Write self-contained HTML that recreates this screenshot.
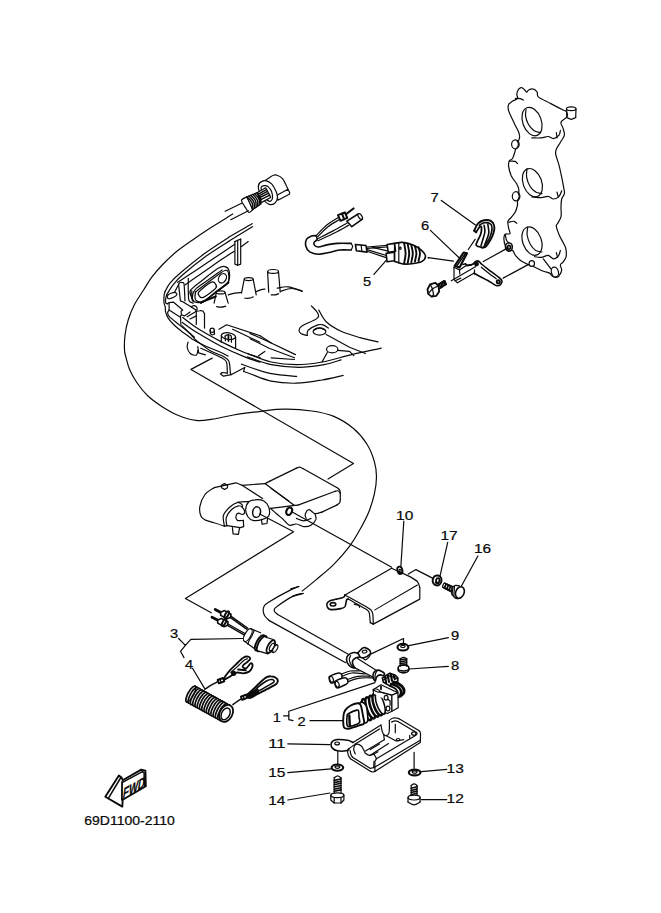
<!DOCTYPE html>
<html><head><meta charset="utf-8"><title>69D1100-2110</title>
<style>
html,body{margin:0;padding:0;background:#fff;}
body{width:661px;height:913px;overflow:hidden;font-family:"Liberation Sans",sans-serif;}
svg{display:block;}
svg path,svg ellipse,svg line,svg circle{stroke:#0a0a0a;stroke-linecap:round;stroke-linejoin:round;}
svg path,svg ellipse{vector-effect:none;}
svg text{font-family:"Liberation Sans",sans-serif;fill:#0a0a0a;stroke:#0a0a0a;stroke-width:0.22px;}
</style></head><body>
<svg width="661" height="913" viewBox="0 0 661 913">
<rect x="0" y="0" width="661" height="913" fill="#ffffff" stroke="none"/>
<!-- cable arc -->
<path d="M232.7 214 C232.2 214.3 233.7 213.4 229.9 215.8 C226.1 218.2 216.1 224.3 209.9 228.3 C203.7 232.3 198.2 236.1 192.6 240 C187 243.9 181.3 247.7 176.3 251.8 C171.3 255.9 166.8 260.3 162.7 264.5 C158.6 268.7 155 272.9 151.8 277.2 C148.6 281.4 146.5 285.4 143.6 290 C140.7 294.6 137.1 299.5 134.5 304.5 C131.9 309.5 129.8 314.9 128.2 320 C126.6 325.1 125.6 330.4 125 335.4 C124.4 340.4 124.3 346.4 124.5 350 C124.7 353.6 125.1 353.9 125.9 357.1 C126.7 360.3 127.7 365 129.5 369.2 C131.3 373.4 133.8 378.1 136.8 382.5 C139.8 386.9 143.5 391.8 147.7 395.8 C151.9 399.8 157.2 403.5 162.2 406.7 C167.2 409.9 172.3 412.9 177.9 415.2 C183.5 417.5 190.2 419.7 196 420.4 C201.8 421.1 206.2 420.1 212.4 419.2 C218.7 418.3 225.4 416.3 233.5 415 C241.6 413.7 252.5 412.3 261 411.3 C269.5 410.3 275.9 409.2 284.4 409.2 C292.9 409.1 303.7 409.8 311.9 411 C320.1 412.2 326.9 413.5 333.8 416.4 C340.7 419.3 348 423.9 353.5 428.5 C359 433.1 363.2 438.3 366.7 443.8 C370.2 449.3 372.7 455.8 374.3 461.3 C375.9 466.8 376.5 471.2 376.5 476.7 C376.5 482.2 375.6 488.4 374.3 494.2 C373 500 371.3 505.9 368.9 511.7 C366.5 517.5 363.4 523.4 360.1 529.2 C356.8 535.1 353.5 540.9 349.1 546.8 C344.7 552.6 339.3 558.8 333.8 564.3 C328.3 569.8 321.6 575.1 316.3 579.6 C311 584.1 304.6 589.1 302.2 591" stroke-width="1.2" fill="none" />
<!-- connector -->
<path d="M258.4 186.2 C258.5 185.8 258.7 184.5 259.1 183.9 C259.4 183.2 259.7 182.9 260.7 182.3 C261.7 181.6 263.1 181.4 265.2 180.3 C267.3 179.1 271.4 176.1 273.4 175.3 C275.4 174.4 275.5 174.7 277 175.3 C278.5 175.8 280.9 176.9 282.5 178.7 C284.1 180.5 285.7 184.4 286.6 186.2 C287.5 187.9 287.7 188.8 287.9 189.3" stroke-width="1.2" fill="#fff" />
<path d="M287.9 189.3 L289.7 192.5 L289.3 194.3 L277.9 200.2 L277 195.2 L287.9 189.3" stroke-width="1.2" fill="#fff" />
<path d="M258.4 186.2 C258.7 184.9 259.1 183.4 260.2 182.5 C261.4 181.6 263.3 180.5 265.2 180.7 C267.1 180.9 269.8 182.1 271.6 183.9 C273.4 185.7 275.1 189.4 276.1 191.6 C277.1 193.8 277.4 195.5 277.5 197 C277.6 198.6 277.2 199.5 276.6 200.7 C276 201.8 275.1 203.2 273.9 203.9 C272.6 204.5 270.8 204.7 269.3 204.3 C267.9 203.9 266.7 203.1 265.2 201.6 C263.8 200.1 261.8 197.2 260.7 195.2 C259.6 193.3 259.1 191.3 258.7 189.8 C258.3 188.3 258.2 187.4 258.4 186.2Z" stroke-width="1.2" fill="#fff" />
<path d="M261.1 187.5 C261.4 186.4 262.7 185.9 263.9 185.7 C265 185.5 266.7 185.6 268 186.6 C269.2 187.6 270.8 189.7 271.6 191.6 C272.3 193.5 272.6 196.4 272.5 198 C272.4 199.5 271.7 200.1 271.1 200.7 C270.5 201.2 269.8 201.6 268.9 201.1 C267.9 200.7 266.4 199.4 265.2 198 C264.1 196.5 262.7 194.2 262.1 192.5 C261.4 190.8 260.8 188.7 261.1 187.5Z" stroke-width="1.2" fill="#fff" />
<path d="M257.5 192.5 L265.7 187.8 L270.7 197.5 L260.7 202.9Z" stroke-width="1.2" fill="#fff" />
<path d="M258.7 193.9 L266.6 189.6" stroke-width="1.4" fill="none" />
<path d="M259.3 195.7 L267.5 191.4" stroke-width="1.4" fill="none" />
<path d="M259.8 197.5 L268.7 193.2" stroke-width="1.4" fill="none" />
<path d="M260.3 199.8 L269.8 195.2" stroke-width="1.4" fill="none" />
<path d="M246.6 197 L257.5 192.5 L260.7 203.9 L252.5 209.8Z" stroke-width="1.2" fill="#fff" />
<path d="M247.1 196.9 C247.9 197.8 251 200.5 252 202.6 C253 204.7 252.8 208.3 253 209.4" stroke-width="1.4" fill="none" />
<path d="M249 196.1 C249.8 197 252.8 199.6 253.7 201.6 C254.7 203.7 254.4 207.2 254.5 208.3" stroke-width="1.4" fill="none" />
<path d="M250.9 195.3 C251.7 196.2 254.6 198.7 255.5 200.7 C256.3 202.7 256 206.1 256.1 207.2" stroke-width="1.4" fill="none" />
<path d="M252.8 194.5 C253.5 195.3 256.4 197.8 257.2 199.8 C258 201.7 257.5 205.1 257.6 206.1" stroke-width="1.4" fill="none" />
<path d="M254.7 193.7 C255.4 194.5 258.2 196.9 258.9 198.8 C259.7 200.7 259.1 204 259.1 205" stroke-width="1.4" fill="none" />
<path d="M256.6 192.9 C257.3 193.7 260 196 260.6 197.9 C261.3 199.7 260.7 202.9 260.7 203.9" stroke-width="1.4" fill="none" />
<path d="M246.6 197 C245.8 197.5 242.3 198.8 241.6 199.8 C241 200.8 241.9 201.6 242.5 202.9 C243.2 204.3 244.7 206.4 245.7 207.9 C246.8 209.5 247.8 212.2 248.9 212.5 C250 212.8 251.9 210.2 252.5 209.8" stroke-width="1.2" fill="#fff" />
<path d="M246.6 197 C246.9 197.5 247.5 198.4 248.2 199.8 C248.8 201.1 250 203.6 250.7 205.2 C251.4 206.9 252.2 209 252.5 209.8" stroke-width="1.2" fill="none" />
<path d="M241.6 203.3 L225.2 211.3" stroke-width="1.2" fill="none" />
<path d="M248.4 210.8 L230.7 219.7" stroke-width="1.2" fill="none" />
<!-- cowling -->
<path d="M165 291.6 C165.8 290.2 167.5 286.3 170 283.2 C172.5 280.2 174.1 278.3 180 273.3 C185.8 268.3 196.6 259.4 204.9 253.3 C213.2 247.2 222.4 241.4 229.9 236.6 C237.4 231.9 246.2 227.2 249.9 225 C253.5 222.8 251.7 223.9 252 223.7" stroke-width="1.2" fill="none" />
<path d="M166.6 294.9 C167.6 293.4 170 288.9 172.5 285.7 C175 282.6 175.9 280.7 181.6 275.8 C187.3 270.8 198 262 206.6 255.8 C215.2 249.6 225.9 243.3 233.2 238.6 C240.6 234 247.5 229.7 250.7 227.7 C253.9 225.7 252.1 226.8 252.4 226.7" stroke-width="1.2" fill="none" />
<path d="M177.6 282.3 C178.8 281.5 180.3 280.6 185 277.5 C189.7 274.4 198.8 268.4 205.7 263.8 C212.5 259.2 221.4 253.3 226.3 250 C231.2 246.7 233.4 245.1 234.8 244.2" stroke-width="1.2" fill="none" />
<path d="M185 284.9 C187.9 282.9 196.6 276.8 202.5 272.8 C208.3 268.7 214.7 264.2 219.9 260.6 C225.2 257 231.9 252.8 234.2 251.3" stroke-width="1.2" fill="none" />
<path d="M192.4 300.8 C192.4 299.9 192.4 296.9 192.6 295.5 C192.8 294.1 192.8 293.6 193.5 292.4 C194.1 291.1 194 290.3 196.6 288.1 C199.3 285.9 205.1 282.1 209.4 279.1 C213.6 276.1 219.9 271.6 222.1 270.1" stroke-width="1.2" fill="none" />
<path d="M200.9 302.4 C199.6 302.1 196.5 301.4 195.6 299.8 C194.7 298.1 195.2 293.9 195.6 292.4 C195.9 290.8 193.5 293.5 197.7 290.2 C201.9 287 216.2 276.1 221 272.8 C225.8 269.5 225.1 270.4 226.3 270.3 C227.5 270.3 228 270.5 228.4 272.5 C228.8 274.4 229 279.8 228.6 281.8 C228.3 283.8 230.6 281.1 226.3 284.4 C222 287.8 207.2 298.9 203 301.9 C198.8 304.9 202.1 302.8 200.9 302.4Z" stroke-width="1.2" fill="none" />
<path d="M201.1 302.3 L215.7 296.6" stroke-width="2.2" fill="none" />
<path d="M165 291.6 C164.8 292.3 164.3 293.6 164.1 295.4 C163.9 297.3 163.8 300.7 164 302.7 C164.2 304.7 165 305.7 165.3 307.2 C165.5 308.7 165.1 310 165.6 311.8 C166.1 313.6 166.8 316 168.2 318.1 C169.5 320.2 171.5 322.4 173.6 324.5 C175.7 326.6 178 328.6 180.9 330.8 C183.8 333.1 188.9 336.7 190.9 338.1 C192.8 339.5 190.1 337.9 192.5 339.2 C194.9 340.5 200.7 343.8 205.4 346 C210.1 348.2 216.7 350.6 220.5 352.3 C224.3 354 226.8 355.5 228.1 356.1" stroke-width="1.2" fill="none" />
<path d="M166.6 294.9 C166.5 295.4 166 296.9 165.8 298.2 C165.6 299.5 165.4 301.8 165.6 302.7 C165.9 303.6 167 303.6 167.3 303.8" stroke-width="1.2" fill="none" />
<path d="M169.1 310 L180.4 317.2" stroke-width="1.2" fill="none" />
<path d="M167.3 303.8 L169.1 302.7 L173.6 302.2 L182.7 310 L181.1 311.3 L181.4 314.7 L180.5 316.3 L180.9 324.5" stroke-width="1.2" fill="none" />
<path d="M169.1 302.7 L169.1 310 L168.2 311.3" stroke-width="1.2" fill="none" />
<path d="M181.4 314.7 L184.5 315.9 L190 312" stroke-width="1.2" fill="none" />
<path d="M167.7 312.2 C167.9 312.9 167 314.1 169.1 316.3 C171.1 318.5 175.7 321.9 180 325.4 C184.2 328.9 192.1 335.2 194.5 337.2" stroke-width="1.2" fill="none" />
<path d="M181.9 325.6 C183.3 326.9 188 331.5 190.3 333.9 C192.5 336.3 194.7 338.9 195.6 339.9" stroke-width="1.2" fill="none" />
<path d="M178.6 284.5 C178.8 284.2 178.9 283.1 179.5 282.7 C180.1 282.4 181.5 282.2 182.2 282.5 C183 282.8 183.6 281.5 184.1 284.5 C184.5 287.6 184.8 298.2 185 300.9" stroke-width="1.2" fill="none" />
<path d="M178.6 284.5 L180.4 300.9 L182.7 301.8 L191.8 307.2 L195.9 310" stroke-width="1.2" fill="none" />
<path d="M174.5 292.3 L178.6 284.5" stroke-width="1.2" fill="none" />
<path d="M168 295 C169 293.9 173 292.3 174.5 292.3 C176 292.2 177 293.9 176.9 294.7 C176.7 295.5 175.1 296.6 173.6 297.2 C172.2 297.9 169.1 299 168.2 298.6 C167.2 298.2 166.9 296 168 295Z" stroke-width="1.2" fill="none" />
<path d="M191.3 307.2 C191.5 307 191.9 306 192.7 305.9 C193.4 305.7 195.1 305.8 195.9 306.3 C196.6 306.9 197.2 308.4 197.2 309 C197.2 309.7 196.1 310.2 195.9 310.4" stroke-width="1.2" fill="none" />
<path d="M187.2 316.8 L196.3 311.3" stroke-width="1.2" fill="none" />
<path d="M196.3 311.3 C196.9 311.2 198.9 310.7 199.9 310.7 C201 310.6 201.9 310.6 202.7 311 C203.4 311.5 204.2 313.2 204.5 313.6" stroke-width="1.2" fill="none" />
<path d="M204.5 313.6 L204.5 328.1" stroke-width="1.2" fill="none" />
<path d="M196.3 311.3 L196.3 324.5" stroke-width="1.2" fill="none" />
<path d="M190 319 L196.3 315.9" stroke-width="1.2" fill="none" />
<path d="M191.8 290.9 C191.8 292.1 191.6 296.5 192 298.2 C192.3 299.8 193.7 300.6 194 301.1" stroke-width="1.2" fill="none" />
<path d="M182.7 317.5 C185.2 319.4 191.5 324.6 197.8 328.6 C204.1 332.6 213 337.5 220.5 341.4 C228.1 345.3 236.6 349.3 243.2 352 C249.8 354.7 257.2 356.7 260 357.6" stroke-width="1.2" fill="none" />
<path d="M182.4 322.5 C185 324.3 191.5 329.2 197.8 333.1 C204.2 337 212.7 342 220.5 346 C228.3 349.9 238.1 354.2 244.7 356.9 C251.3 359.6 257.5 361.3 260 362.2" stroke-width="1.2" fill="none" />
<path d="M190.8 289.9 C193.1 286.9 200.3 281.9 204.9 278.3 C209.5 274.6 214.9 270.2 218.2 268.3 C221.6 266.3 223.1 266.2 224.9 266.6 C226.7 267 228.5 268.3 229.1 270.8 C229.6 273.3 230.6 278 228.2 281.6 C225.9 285.2 219.1 289.1 214.9 292.4 C210.7 295.7 206.7 300 203.3 301.6 C199.8 303.1 196.1 302.4 194.1 301.6 C192.1 300.7 191.8 298.5 191.3 296.6 C190.7 294.6 188.5 293 190.8 289.9Z" stroke-width="1.2" fill="none" />
<path d="M199.1 291.6 C201 289.3 208.1 283.8 210.7 282.4 C213.4 281 214.1 282.3 214.9 283.2 C215.7 284.2 217.7 285.9 215.7 288.2 C213.8 290.6 206 296.1 203.3 297.4 C200.5 298.6 199.8 296.7 199.1 295.7 C198.4 294.8 197.2 293.8 199.1 291.6Z" stroke-width="1.2" fill="none" />
<ellipse cx="222.4" cy="278.3" rx="3.7" ry="5" transform="rotate(30 222.4 278.3)" stroke-width="1.2" fill="none"/>
<path d="M188.3 278.3 C188.3 280.5 188.1 287.8 188.3 291.6 C188.4 295.3 188.3 298.8 189.1 300.7 C189.9 302.7 192.6 302.8 193.3 303.2" stroke-width="1.2" fill="none" />
<path d="M202.4 302.4 L228.2 283.2" stroke-width="1.2" fill="none" />
<path d="M234.9 241.6 L234.9 264.1 L237.7 265.3 L237.7 240.3" stroke-width="1.2" fill="none" />
<path d="M240.7 239.1 L240.7 264.1 L237.7 265.3" stroke-width="1.2" fill="none" />
<path d="M234.9 241.6 L237.7 240.3 L240.7 239.1" stroke-width="1.2" fill="none" />
<path d="M241.5 246.6 L248.2 241.6" stroke-width="1.2" fill="none" />
<ellipse cx="220.7" cy="292.4" rx="4.3" ry="1.5" transform="rotate(0 220.7 292.4)" stroke-width="1.2" fill="#fff"/>
<path d="M216.4 292.7 L214.1 303.2" stroke-width="1.2" fill="none" />
<path d="M225.1 292.7 L228.2 303.2" stroke-width="1.2" fill="none" />
<path d="M216.6 306.5 C217.3 306.7 219.2 307.3 220.7 307.2 C222.3 307.2 224.9 306.4 225.7 306.2" stroke-width="1.2" fill="none" />
<ellipse cx="248.7" cy="279.1" rx="4.5" ry="1.5" transform="rotate(0 248.7 279.1)" stroke-width="1.2" fill="#fff"/>
<path d="M244.2 279.4 L241.5 293.2" stroke-width="1.2" fill="none" />
<path d="M253.2 279.4 L256.2 294.9" stroke-width="1.2" fill="none" />
<path d="M244.9 298.2 C245.6 298.2 247.6 298.4 249 298.2 C250.4 298 252.5 297.1 253.2 296.9" stroke-width="1.2" fill="none" />
<ellipse cx="273.1" cy="271.4" rx="5.4" ry="1.9" transform="rotate(0 273.1 271.4)" stroke-width="1.2" fill="#fff"/>
<path d="M267.6 271.7 L268.7 292.1" stroke-width="1.2" fill="none" />
<path d="M278.5 271.7 L280.2 292.1" stroke-width="1.2" fill="none" />
<path d="M271.2 294.8 C271.9 294.8 274 295 275.3 294.8 C276.5 294.6 278 293.9 278.5 293.7" stroke-width="1.2" fill="none" />
<path d="M228.2 294.9 C229.3 294.6 232.7 293.6 234.9 293.2 C237.1 292.8 240.4 292.5 241.5 292.4" stroke-width="1.2" fill="none" />
<path d="M256.2 291.6 C257.1 291.2 260 290 261.5 289.6 C263 289.2 264.4 289.2 265 289.1" stroke-width="1.2" fill="none" />
<path d="M280.7 291.3 C282.5 290.8 288 288.5 291.6 288.5 C295.2 288.5 300.7 290.8 302.5 291.3" stroke-width="1.2" fill="none" />
<ellipse cx="212.2" cy="330.2" rx="2.1" ry="2.1" transform="rotate(0 212.2 330.2)" stroke-width="1.2" fill="none"/>
<path d="M210.1 330.5 L210.4 333.6" stroke-width="1.2" fill="none" />
<path d="M210.4 333.6 C210.7 333.8 211.5 334.7 212.2 334.8 C212.9 334.8 214.1 334 214.5 333.9" stroke-width="1.2" fill="none" />
<path d="M214.3 330.5 L214.5 333.9" stroke-width="1.2" fill="none" />
<ellipse cx="228.4" cy="336.1" rx="7.1" ry="3.3" transform="rotate(8 228.4 336.1)" stroke-width="1.2" fill="#fff"/>
<path d="M221.3 335.4 L221.3 342.2" stroke-width="1.2" fill="none" />
<path d="M235.6 337.2 L235.6 348.2" stroke-width="1.2" fill="none" />
<path d="M225.1 336.1 C225.4 335.9 226.4 334.9 227.3 334.8 C228.3 334.7 230.1 334.9 230.8 335.4 C231.5 335.9 231.3 337.3 231.4 337.7" stroke-width="1.2" fill="none" />
<path d="M225.1 336.1 L225.4 340.7" stroke-width="1.2" fill="none" />
<path d="M231.4 337.7 L231.4 342.2" stroke-width="1.2" fill="none" />
<path d="M228.4 335.1 L228.5 341.1" stroke-width="1.8" fill="none" />
<path d="M219 329.3 L226.6 324.8 L260 335.7" stroke-width="1.2" fill="none" />
<path d="M232.6 329.3 L260 342.2" stroke-width="1.2" fill="none" />
<path d="M250 333.4 L271.2 343 L295.5 354.6" stroke-width="1.2" fill="none" />
<path d="M250 338.7 L269.1 348.2 L294.5 357.8" stroke-width="1.2" fill="none" />
<path d="M271.2 357.8 L294.5 359.5" stroke-width="1.2" fill="none" />
<path d="M258.5 355.7 L264.8 351.4" stroke-width="1.2" fill="none" />
<path d="M260 335.7 L271.2 343" stroke-width="1.2" fill="none" />
<path d="M195.6 339.9 C197.9 341.7 205.3 347.7 209.9 350.5 C214.6 353.3 220.4 354.8 223.5 356.6 C226.7 358.3 227.7 358.5 228.8 361.1 C230 363.8 230.1 370.6 230.3 372.5" stroke-width="1.2" fill="none" />
<path d="M200.8 348.2 C204.4 349.9 217.7 355.7 222 358.1 C226.3 360.5 225.7 360.1 226.6 362.6 C227.4 365.1 227.2 371.4 227.3 373.2" stroke-width="1.2" fill="none" />
<path d="M227.3 373.2 L222 372.5 L220.5 374 L223.5 376.2 L231.1 374.7 L244.7 367.5" stroke-width="1.2" fill="none" />
<path d="M230.3 372.5 L231.1 374.7" stroke-width="1.2" fill="none" />
<path d="M188 342.2 C187.9 343.1 186.9 345.6 187.2 347.5 C187.6 349.4 188.7 352.3 190.3 353.5 C191.8 354.8 195 355.6 196.3 355.1 C197.6 354.5 197.6 351.3 197.8 350.5" stroke-width="1.2" fill="none" />
<path d="M197.8 346.7 L198.6 352.8 L205.4 354.8" stroke-width="1.2" fill="none" />
<path d="M247.9 353.5 C248.2 353.7 246.1 353.2 250 354.6 C253.9 356 263.4 360.4 271.2 362 C278.9 363.7 288.1 364.6 296.6 364.6 C305.1 364.6 312.8 363.7 322 362 C331.2 360.4 341.8 356.9 351.7 354.6 C361.5 352.3 376.4 349.3 381.3 348.2" stroke-width="1.2" fill="none" />
<path d="M247.9 356.9 C248.2 357.1 246.1 356.5 250 357.8 C253.9 359 263.1 363 271.2 364.6 C279.3 366.1 289.9 367.3 298.7 367.3 C307.5 367.3 317.1 365.8 324.1 364.6 C331.2 363.3 338.3 360.7 341.1 359.9" stroke-width="1.2" fill="none" />
<path d="M241.5 364.1 C242.9 364.7 245.1 365.7 250 367.3 C254.9 368.9 263.4 372.1 271.2 373.7 C278.9 375.2 292.4 376 296.6 376.4" stroke-width="1.2" fill="none" />
<path d="M243.6 371.5 C244.7 371.9 245.4 372.1 250 373.7 C254.6 375.2 263.4 379.5 271.2 381.1 C278.9 382.7 288.1 383.4 296.6 383.2 C305.1 383 314.2 381.3 322 380 C329.8 378.7 339.7 376.1 343.2 375.4" stroke-width="1.2" fill="none" />
<path d="M244.7 367.5 L243.6 371.5" stroke-width="1.2" fill="none" />
<path d="M318.8 310.1 C320.1 312.1 322.5 318.2 326.2 321.8 C330 325.3 335.4 328.7 341.1 331.3 C346.7 333.9 354 335.9 360.1 337.7 C366.3 339.4 375.1 341.2 378.1 341.9" stroke-width="1.2" fill="none" />
<path d="M311.4 305.9 C312.5 307.1 316.9 311.2 317.8 313.3 C318.7 315.4 319.4 316.5 316.7 318.6 C314.1 320.7 304.8 324.1 301.9 326 C299 327.9 299.3 329 299.1 330.2 C299 331.5 299.5 332.5 300.8 333.4 C302.2 334.3 306.1 335.2 307.2 335.5" stroke-width="1.2" fill="none" />
<path d="M307.2 335.5 C307.4 334.7 306.5 332 308.2 330.2 C310 328.5 315.3 325.8 317.8 324.9 C320.2 324.1 321.3 324.4 323.1 324.9 C324.8 325.5 327.5 327.6 328.4 328.1" stroke-width="1.2" fill="none" />
<ellipse cx="319.5" cy="331.5" rx="6.4" ry="3.6" transform="rotate(0 319.5 331.5)" stroke-width="1.2" fill="none"/>
<path d="M313.5 330.2 C314.5 329.9 317.5 328.1 319.5 328.1 C321.4 328.1 324.2 329.9 325.2 330.2" stroke-width="1.2" fill="none" />
<path d="M326.2 334.5 L349.5 347.2 L365.4 353.5" stroke-width="1.2" fill="none" />
<ellipse cx="332.2" cy="349.3" rx="5.7" ry="3.6" transform="rotate(0 332.2 349.3)" stroke-width="1.2" fill="#fff"/>
<path d="M327.3 352.5 L322 362" stroke-width="1.2" fill="none" />
<path d="M337.9 350.4 L349.5 351.4 L353.8 355.7" stroke-width="1.2" fill="none" />
<path d="M277.2 288.2 C279 287.9 284 286.4 288.1 286.8 C292.2 287.3 299.5 290.2 301.7 290.9" stroke-width="1.2" fill="none" />
<path d="M212.2 358.1 L191 369.4 L353.5 463.5 L328 479" stroke-width="1.2" fill="none" />
<!-- part5 -->
<path d="M351.1 243.4 C348.8 243.4 341.4 243.2 337.4 243.4 C333.3 243.7 329.9 244.3 326.8 244.9 C323.7 245.5 320.7 246.9 318.7 247 C316.7 247.1 315.5 246.3 314.7 245.5 C313.9 244.8 313.6 243.3 314.1 242.4 C314.5 241.4 316.7 240.2 317.2 239.8" stroke-width="1.6" fill="none" />
<path d="M351.1 250 C349.2 250 343.2 249.6 339.5 250 C335.8 250.4 332.4 251.8 328.9 252.5 C325.4 253.2 321.5 254.3 318.3 254.2 C315.1 254.1 311.9 253.3 309.8 251.9 C307.7 250.4 306.1 247.7 305.6 245.5 C305.1 243.4 305.7 240.8 306.6 239.2 C307.6 237.6 309.9 236.6 311.5 236 C313.1 235.4 315.4 235.7 316.2 235.6" stroke-width="1.6" fill="none" />
<path d="M351.1 243.4 C351.4 243.9 352.6 245.5 352.6 246.6 C352.6 247.7 351.4 249.4 351.1 250" stroke-width="1.2" fill="none" />
<path d="M316.2 235.6 L317.2 239.8" stroke-width="1.2" fill="none" />
<path d="M315.8 236 C317.6 234.2 323 228.1 326.8 225 C330.5 221.9 336.5 218.6 338.4 217.4" stroke-width="1.2" fill="none" />
<path d="M317.5 236.9 C319.2 235.2 324.4 229.6 328 226.7 C331.7 223.8 337.6 220.7 339.5 219.5" stroke-width="1.2" fill="none" />
<path d="M317 239 C319.7 237.6 328.1 233.6 333.1 230.9 C338.1 228.2 344.8 224.2 347.1 222.9" stroke-width="1.2" fill="none" />
<path d="M318.3 240.7 C321 239.4 329.4 235.6 334.4 233 C339.4 230.5 346 226.7 348.4 225.4" stroke-width="1.2" fill="none" />
<path d="M338 215.2 L344.8 212.3 L347.3 217.8 L340.5 220.8Z" stroke-width="2" fill="#fff" />
<path d="M342 213.6 L344.1 219.1" stroke-width="2" fill="none" />
<path d="M346.3 214 L353.5 208.5" stroke-width="2.2" fill="none" />
<path d="M346.9 221.2 L358.1 214 L362.4 219.1 L351.8 226.7Z" stroke-width="1.6" fill="#fff" />
<ellipse cx="360.2" cy="216.5" rx="1.7" ry="3.2" transform="rotate(-33 360.2 216.5)" stroke-width="1.2" fill="#fff"/>
<path d="M355.4 244.5 L366 245.5 L367 252.1 L356.4 250.8Z" stroke-width="1.6" fill="none" />
<path d="M361.1 245.1 L361.9 251.5" stroke-width="1.2" fill="none" />
<path d="M367 247 L387.3 245.3" stroke-width="1.2" fill="none" />
<path d="M367 248.3 L387.3 247" stroke-width="1.2" fill="none" />
<path d="M367 249.6 L386.5 255.5" stroke-width="1.2" fill="none" />
<path d="M367 251.3 L386.1 257.6" stroke-width="1.2" fill="none" />
<path d="M372.3 247.4 L387.3 250.8" stroke-width="1.2" fill="none" />
<path d="M387.1 244.5 L394.5 243.4 L395.6 251.3 L388.2 252.3Z" stroke-width="1.6" fill="#fff" />
<path d="M386.1 253.4 L394.5 252.3 L394.5 260.8 L387.1 261.8Z" stroke-width="1.6" fill="#fff" />
<path d="M394.5 243.4 C396 243.2 399.8 242 403 242.4 C406.2 242.7 410.4 243.9 413.6 245.3 C416.8 246.7 420.1 249 422.1 250.8 C424.1 252.7 425.5 254.6 425.5 256.3 C425.5 258.1 424.1 260.2 422.1 261.4 C420.1 262.6 416.8 263.1 413.6 263.5 C410.4 264 406.2 264.3 403 264 C399.8 263.6 396 261.8 394.5 261.4" stroke-width="1.6" fill="none" />
<path d="M394.5 243.4 L394.5 261.4" stroke-width="1.2" fill="none" />
<path d="M398.8 242.8 L398.8 263.1" stroke-width="1.2" fill="none" />
<path d="M404.1 243 C404.3 244.7 405.6 249.9 405.6 253.4 C405.6 256.8 404.3 261.8 404.1 263.5" stroke-width="1.9" fill="none" />
<path d="M407.7 244.1 C407.9 245.6 409.2 250.2 409.2 253.4 C409.2 256.5 407.9 261.3 407.7 262.9" stroke-width="1.9" fill="none" />
<path d="M411.3 245.1 C411.5 246.5 412.8 250.5 412.8 253.4 C412.8 256.2 411.5 260.8 411.3 262.3" stroke-width="1.9" fill="none" />
<path d="M414.9 246.2 C415.1 247.4 416.4 250.8 416.4 253.4 C416.4 256 415.1 260.3 414.9 261.6" stroke-width="1.9" fill="none" />
<path d="M418.5 247.2 C418.7 248.3 420 251.1 420 253.4 C420 255.7 418.7 259.7 418.5 261" stroke-width="1.9" fill="none" />
<ellipse cx="400.3" cy="248.3" rx="0.8" ry="1.1" transform="rotate(0 400.3 248.3)" stroke-width="1.2" fill="none"/>
<path d="M373.9 274.4 L386.2 260.3" stroke-width="1.2" fill="none" />
<text x="367" y="285.6" font-size="12.8" text-anchor="middle" textLength="8.2" lengthAdjust="spacingAndGlyphs" >5</text>
<!-- 6 7 -->
<path d="M441.3 200.4 L475.4 224.9" stroke-width="1.2" fill="none" />
<path d="M430.4 230.4 L460.4 259" stroke-width="1.2" fill="none" />
<text x="434.5" y="202.3" font-size="12.8" text-anchor="middle" textLength="8.2" lengthAdjust="spacingAndGlyphs" >7</text>
<text x="425" y="229.6" font-size="12.8" text-anchor="middle" textLength="8.2" lengthAdjust="spacingAndGlyphs" >6</text>
<path d="M474.2 230.7 C474.8 229.5 476.2 225.3 477.9 223.6 C479.5 221.9 481.8 220.8 484 220.3 C486.1 219.9 489.1 220 490.8 220.9 C492.5 221.8 493.8 223.6 494.2 225.7 C494.7 227.7 494.2 230.7 493.5 233.1 C492.8 235.6 491.4 238.4 490.1 240.6 C488.8 242.9 486.9 245.6 485.6 246.8 C484.3 247.9 482.9 247.4 482.4 247.6" stroke-width="1.9" fill="none" />
<path d="M479.4 225.2 C480.2 224.8 482.6 223.1 484.3 222.8 C485.9 222.5 488.2 222.6 489.4 223.2 C490.7 223.8 491.6 225 491.9 226.6 C492.2 228.3 491.9 230.9 491.3 233.1 C490.8 235.4 489.5 238 488.5 240 C487.4 241.9 485.7 244 485.1 244.9" stroke-width="1.6" fill="none" />
<path d="M474.2 230.7 L476.1 232.3" stroke-width="1.9" fill="none" />
<path d="M476.1 232.3 C476.7 231.4 479 227.4 479.9 226.6 C480.8 225.8 481.4 226.4 481.5 227.7 C481.7 229 481.3 232.2 480.6 234.5 C479.9 236.8 477.9 239.8 477.2 241.6 C476.4 243.4 475.9 244.3 476.1 245.1 C476.3 245.9 477.2 246.1 478.3 246.5 C479.3 246.9 481.7 247.4 482.4 247.6" stroke-width="1.8" fill="none" />
<path d="M484 225.2 C484.2 226.3 485.2 229.2 484.9 231.8 C484.7 234.4 483 238.7 482.4 241 C481.7 243.4 481.2 245.1 481 245.9" stroke-width="1.6" fill="none" />
<path d="M487.8 224.2 C488 225.7 489.1 230.1 488.8 233.1 C488.4 236.2 486.4 240.1 485.6 242.4 C484.8 244.7 484.3 246 484 246.8" stroke-width="1.6" fill="none" />
<path d="M454.7 265.8 L463.6 252.5 L467 253.3 L459.5 267.5Z" stroke-width="2.1" fill="none" />
<path d="M457.4 265.1 L465.2 253.8" stroke-width="1.5" fill="none" />
<path d="M454 267.2 L454 279.4 L457.4 282.8 L473.8 273.3" stroke-width="1.2" fill="none" />
<path d="M473.8 273.3 C476.4 274.7 485.7 279.4 489.4 281.5 C493.2 283.5 494.4 285 496.2 285.6 C498.1 286.1 499.4 285.6 500.3 284.9 C501.3 284.1 502.1 282.2 502 281.1 C501.9 279.9 501.5 279.7 499.7 278.1 C497.8 276.4 493.8 273.5 490.8 271.3 C487.9 269 483.9 266.1 482 264.5 C480 262.8 479.9 261.7 478.8 261.2 C477.8 260.7 476.5 261 475.6 261.5 C474.6 261.9 473.5 263.5 473.1 263.9" stroke-width="1.6" fill="none" />
<path d="M459.5 269.9 L467 265.1 L473.4 264.2" stroke-width="1.2" fill="none" />
<path d="M454 267.2 L459.5 269.9 L459.8 274" stroke-width="1.2" fill="none" />
<path d="M474.5 269.9 L474.5 274" stroke-width="1.2" fill="none" />
<path d="M481.3 267.2 C482.6 268.3 486.9 271.8 489.4 273.7 C491.9 275.7 495.1 277.9 496.2 278.8" stroke-width="1.2" fill="none" />
<ellipse cx="498.3" cy="281.8" rx="1.6" ry="1.6" transform="rotate(0 498.3 281.8)" stroke-width="1.9" fill="none"/>
<ellipse cx="476.5" cy="263.9" rx="1.2" ry="1.2" transform="rotate(0 476.5 263.9)" stroke-width="2.5" fill="none"/>
<path d="M462.9 264.5 L465.6 263.8 L467 265.8 L471.7 265.1" stroke-width="1.5" fill="none" />
<path d="M455.1 280.8 L460.8 278.1" stroke-width="1.2" fill="none" />
<path d="M427.5 289.2 L430.2 284.3 L435.2 282.8 L438.5 285.7 L439.1 291.7 L436.3 295.8 L431.6 296.6 L428.2 293.9Z" stroke-width="1.8" fill="#fff" />
<path d="M430.2 284.3 L432.5 288.7 L428.2 293.9" stroke-width="1.2" fill="none" />
<path d="M432.5 288.7 L438.5 285.7" stroke-width="1.2" fill="none" />
<path d="M432.5 288.7 L433.6 295.1 L431.6 296.6" stroke-width="1.2" fill="none" />
<path d="M437.7 284.6 L444.2 280.8 L446.1 284.3 L439.3 288.7" stroke-width="1.6" fill="none" />
<path d="M439.3 283.8 L440.7 287.9" stroke-width="1.6" fill="none" />
<path d="M440.7 283 L442.1 287" stroke-width="1.6" fill="none" />
<path d="M442.1 282.3 L443.4 286.1" stroke-width="1.6" fill="none" />
<path d="M443.4 281.6 L444.8 285.2" stroke-width="1.6" fill="none" />
<path d="M444.8 280.8 L446.1 284.3" stroke-width="1.6" fill="none" />
<path d="M451.3 280.8 L475.8 266.5" stroke-width="1.2" fill="none" />
<path d="M483.3 261.5 L507.9 247.9" stroke-width="1.2" fill="none" />
<path d="M503.1 278.1 L527.7 264.9" stroke-width="1.2" fill="none" />
<path d="M428.2 257.7 L453.4 261.1" stroke-width="1.2" fill="none" />
<path d="M428.4 258 L428.2 257.7" stroke-width="1.2" fill="none" />
<path d="M468.3 249.5 L475.1 239.3" stroke-width="1.2" fill="none" />
<!-- manifold -->
<path d="M517.5 98.4 C518.1 97.3 516.8 95.5 516.8 94.3 C516.8 93.2 517.1 92.5 517.5 91.6 C517.8 90.7 518 89.5 518.8 88.9 C519.6 88.3 521.2 87.5 522.2 87.8 C523.3 88.1 524.5 89.8 525.2 90.5 C526 91.3 526 92.3 526.6 92.2 C527.2 92 527.8 90.2 529 89.7 C530.2 89.2 532.4 88.7 533.8 89.2 C535.2 89.6 536.4 91 537.2 92.3 C538 93.6 536.3 95.2 538.6 97.1 C540.8 98.9 546.7 101.4 550.8 103.6 C554.9 105.8 560.5 108.7 563.1 110 C565.7 111.3 565.8 110.4 566.5 111.5 C567.1 112.6 567.8 115 566.9 116.8 C566 118.6 561.7 120.3 561 122.3 C560.4 124.2 562.5 126.2 563.1 128.4 C563.6 130.5 564.8 132.9 564.4 135.2 C564 137.5 561.9 139.7 560.6 142 C559.3 144.3 557.4 146.8 556.5 148.8 C555.7 150.8 555.3 151.5 555.7 154.2 C556.1 157 558 161.3 559 165.1 C560 169 560.9 173.4 561.7 177.2 C562.5 181.1 563.3 185.4 563.8 188.1 C564.2 190.8 564.8 191.8 564.4 193.6 C564.1 195.4 562.3 196.7 561.7 199 C561.1 201.3 561.1 204.2 561 207.2 C560.9 210.1 561.6 214 561 216.7 C560.5 219.4 558.4 221.9 557.6 223.5 C556.8 225.1 556 224.4 556.3 226.2 C556.5 228.1 557.9 231.7 559 234.4 C560.1 237.1 561.9 240.2 563.1 242.6 C564.2 244.9 565.3 246.2 565.8 248.6 C566.3 250.9 566.5 254.5 566.1 256.7 C565.6 259 564 260.8 563.1 262.2 C562.1 263.5 560.6 263.5 560.4 264.9 C560.1 266.3 561.9 268.5 561.7 270.4 C561.5 272.2 559.9 274.6 559 275.8 C558.1 277 557.3 277.3 556.3 277.4 C555.2 277.5 554 277.2 552.9 276.5 C551.7 275.8 551.2 274 549.5 273.1 C547.8 272.2 545.2 272.1 542.7 271 C540.2 270 536.8 268 534.5 267 C532.2 265.9 531.3 265.9 529 264.9 C526.8 263.9 523.1 262.4 520.9 260.8 C518.6 259.2 516.8 257.1 515.4 255.4 C514.1 253.7 513.8 251.3 512.7 250.6 C511.6 249.9 509.8 251.7 508.6 251 C507.4 250.3 506.4 248.5 505.6 246.5 C504.8 244.5 503.9 241.1 503.9 239 C503.8 237 504.2 235.2 505.2 234.3 C506.2 233.4 509.4 234.6 510 233.6 C510.5 232.6 509 230.2 508.6 228.1 C508.3 226.1 507.5 223.2 507.9 221.3 C508.4 219.5 510.1 218.8 511.3 217.3 C512.6 215.7 514.4 213.9 515.4 211.8 C516.4 209.8 517.1 206.7 517.5 205 C517.8 203.3 517.3 203.2 517.5 201.7 C517.6 200.3 518.2 198.3 518.4 196.3 C518.6 194.3 519.1 191.5 518.8 189.5 C518.6 187.4 518 186.3 516.8 184 C515.5 181.8 512.7 178.8 511.3 175.9 C510 172.9 509 168.8 508.6 166.3 C508.3 163.8 508.6 162.3 509.3 160.9 C510 159.5 511.7 160 512.7 158.2 C513.7 156.4 514.7 152.2 515.4 150 C516.1 147.8 516.1 146.7 516.8 144.7 C517.5 142.7 519.2 140 519.5 137.9 C519.8 135.9 519.7 135 518.8 132.5 C517.9 130 515.8 126.6 514.1 122.9 C512.4 119.3 509.5 113.7 508.6 110.7 C507.7 107.6 507.9 106.1 508.6 104.6 C509.3 103 511.2 102.2 512.7 101.1 C514.2 100.1 516.8 99.6 517.5 98.4Z" stroke-width="1.2" fill="none" />
<ellipse cx="532" cy="121.6" rx="9.3" ry="14.7" transform="rotate(-20 532 121.6)" stroke-width="1.2" fill="none"/>
<path d="M526 109.6 C526 110.7 525.2 113.7 525.6 116.1 C526 118.6 527 121.9 528.4 124.3 C529.7 126.7 531.8 129 533.8 130.4 C535.8 131.8 539.5 132.3 540.6 132.7" stroke-width="1.2" fill="none" />
<ellipse cx="532.4" cy="182.7" rx="9.3" ry="14.7" transform="rotate(-20 532.4 182.7)" stroke-width="1.2" fill="none"/>
<path d="M527 168.8 C526.9 170.2 526.1 174.3 526.6 177.2 C527.1 180.2 528.6 184 530.1 186.5 C531.6 188.9 533.6 190.8 535.6 191.9 C537.5 193.1 540.9 193.3 542 193.6" stroke-width="1.2" fill="none" />
<ellipse cx="532" cy="241.1" rx="9.3" ry="14.7" transform="rotate(-20 532 241.1)" stroke-width="1.2" fill="none"/>
<path d="M527.7 227.1 C527.6 228.4 526.7 232 527.1 235 C527.6 237.9 528.9 241.9 530.4 244.5 C531.9 247.1 533.9 249.2 535.8 250.5 C537.8 251.7 541 251.7 542 252" stroke-width="1.2" fill="none" />
<path d="M531.8 137.9 C533.4 137.9 538.6 138.1 541.3 137.9 C544 137.7 546.1 136.4 548.1 136.5 C550.1 136.7 551.7 138.8 553.5 138.6 C555.4 138.4 557.9 136.5 559 135.2 C560.1 133.8 560.1 131.2 560.4 130.4" stroke-width="1.2" fill="none" />
<path d="M556.3 132.5 L557.1 137.9" stroke-width="1.2" fill="none" />
<path d="M531.8 197 C533.4 197.1 538.6 197.8 541.3 197.7 C544 197.5 546.1 196.1 548.1 196.3 C550.1 196.5 551.7 199 553.5 199 C555.4 199 557.6 197.7 559 196.3 C560.4 194.9 561.3 191.8 561.7 190.8" stroke-width="1.2" fill="none" />
<path d="M557 192.2 L558.3 197" stroke-width="1.2" fill="none" />
<path d="M534.5 256.7 C535.6 256.9 539 257.6 541.3 257.4 C543.6 257.2 546.1 255.2 548.1 255.4 C550.1 255.6 551.8 258.7 553.5 258.8 C555.2 258.9 557.2 257.4 558.3 256.1 C559.4 254.7 560 251.5 560.4 250.6" stroke-width="1.2" fill="none" />
<path d="M556.3 252.7 L557.6 257.4" stroke-width="1.2" fill="none" />
<path d="M543.3 258.8 L551.5 269.7" stroke-width="1.2" fill="none" />
<path d="M515.4 98.4 C516.2 98.5 518.9 98.4 520.2 98.7 C521.5 99 522.8 99.8 523.3 100.1" stroke-width="1.2" fill="none" />
<path d="M509.3 161.2 C510.3 161.2 513.8 161 515.2 161.4 C516.5 161.8 517.1 163.3 517.5 163.6" stroke-width="1.2" fill="none" />
<path d="M508.6 222.2 C509.5 222 512.7 221.1 514.1 221.3 C515.4 221.5 516.3 223 516.8 223.4" stroke-width="1.2" fill="none" />
<ellipse cx="571.2" cy="108.8" rx="4.8" ry="1.9" transform="rotate(0 571.2 108.8)" stroke-width="1.2" fill="#fff"/>
<path d="M566.5 109 L566.8 117.5" stroke-width="1.2" fill="none" />
<path d="M576 109 L575.7 117.5" stroke-width="1.2" fill="none" />
<path d="M566.8 117.5 C567.5 117.8 569.8 119.3 571.2 119.3 C572.7 119.3 575 117.8 575.7 117.5" stroke-width="1.2" fill="none" />
<ellipse cx="515.4" cy="144.3" rx="3.8" ry="4.5" transform="rotate(0 515.4 144.3)" stroke-width="1.2" fill="#fff"/>
<path d="M517.1 140.6 C517.3 141.3 518.5 143.2 518.4 144.4 C518.4 145.7 517.1 147.5 516.8 148.1" stroke-width="1.2" fill="none" />
<ellipse cx="516.1" cy="196.3" rx="3.8" ry="4.6" transform="rotate(0 516.1 196.3)" stroke-width="1.2" fill="#fff"/>
<path d="M517.9 192.5 C518.1 193.1 519.3 195 519.2 196.3 C519.2 197.6 517.9 199.5 517.6 200.1" stroke-width="1.2" fill="none" />
<ellipse cx="508.9" cy="246.9" rx="3.4" ry="4.2" transform="rotate(0 508.9 246.9)" stroke-width="1.6" fill="none"/>
<ellipse cx="509" cy="247.3" rx="1.4" ry="1.9" transform="rotate(0 509 247.3)" stroke-width="1.6" fill="none"/>
<path d="M505.2 234.3 C505.4 235.3 506 239 506.6 240.4 C507.1 241.8 508.3 242.4 508.6 242.9" stroke-width="1.2" fill="none" />
<ellipse cx="531.8" cy="263.5" rx="2.7" ry="2.9" transform="rotate(0 531.8 263.5)" stroke-width="1.2" fill="#fff"/>
<ellipse cx="554.9" cy="272" rx="3.5" ry="5" transform="rotate(-15 554.9 272)" stroke-width="1.2" fill="#fff"/>
<!-- cdi -->
<path d="M265 483.6 L269.9 481.1" stroke-width="1.2" fill="none" />
<path d="M269.9 481.1 L296.5 468.1" stroke-width="1.2" fill="none" />
<path d="M296.5 468.1 C297 467.9 298.6 467 299.7 467.1 C300.7 467.2 302.3 468.3 302.8 468.6" stroke-width="1.2" fill="none" />
<path d="M302.8 468.6 L336.7 487.4" stroke-width="1.2" fill="none" />
<path d="M336.7 487.4 C337.2 487.8 339 488.9 339.6 489.9 C340.2 490.8 340.2 492.7 340.3 493.2" stroke-width="1.2" fill="none" />
<path d="M340.3 493.2 L340.3 499.8" stroke-width="1.2" fill="none" />
<path d="M340.3 499.8 C340.2 500.3 340.2 502 339.6 502.9 C339 503.8 337.2 504.7 336.7 505.1" stroke-width="1.2" fill="none" />
<path d="M336.7 505.1 L321.9 512.1" stroke-width="1.2" fill="none" />
<path d="M265 483.6 L291.7 503.4" stroke-width="1.2" fill="none" />
<path d="M291.7 503.4 C292.1 503.7 293.5 505.1 294.6 505.3 C295.6 505.6 297.4 505.1 298 505.1" stroke-width="1.2" fill="none" />
<path d="M298 505.1 L335.2 491.3" stroke-width="1.2" fill="none" />
<path d="M335.2 491.3 C335.7 491.2 337.3 490.5 338.1 490.8 C339 491.1 340 492.8 340.3 493.2" stroke-width="1.2" fill="none" />
<path d="M294.6 505.3 L283.2 506.8 L270.4 508.3" stroke-width="1.2" fill="none" />
<path d="M271.1 488.4 L288.8 501" stroke-width="1.1" fill="none" />
<path d="M270.4 508.3 C271.5 509.3 275 512.4 277.1 514.3 C279.3 516.2 281.2 517.6 283.2 519.4 C285.2 521.2 287 524.4 289.2 525.2 C291.5 526 294.1 523.7 296.5 524 C298.9 524.2 301.3 526.4 303.8 526.6 C306.2 526.9 309 526.4 311 525.2 C313 524 315.2 521.3 315.9 519.4 C316.5 517.5 315.1 514.5 314.9 513.6" stroke-width="1.2" fill="none" />
<path d="M321.9 512.1 C320.8 512.4 317 514 314.9 513.6 C312.8 513.2 310.7 509.6 309.1 509.7 C307.5 509.8 305.7 512.9 305.2 514.3 C304.7 515.8 306 517.7 306.2 518.4" stroke-width="1.2" fill="none" />
<path d="M296.5 518.4 C297.7 518.8 301.3 520.8 303.8 520.8 C306.2 520.8 309.8 518.8 311 518.4" stroke-width="1.2" fill="none" />
<path d="M214.2 487.7 C212.7 488.8 207.4 491.3 205 494.5 C202.6 497.6 200.6 502.7 199.9 506.3 C199.2 509.9 200 513.7 200.9 516 C201.7 518.3 202.8 518.7 205 519.9 C207.2 521 211 521.7 214.2 522.8 C217.4 523.8 222.7 525.6 224.4 526.2" stroke-width="1.2" fill="none" />
<path d="M214.2 487.7 L236 482.8 L242 485.3" stroke-width="1.2" fill="none" />
<path d="M242 485.3 L262.6 498.6" stroke-width="1.2" fill="none" />
<path d="M242 485.3 L265 483.6" stroke-width="1.2" fill="none" />
<path d="M224.4 526.2 C224.2 524.4 222.5 518.7 223.4 515.5 C224.3 512.3 227.4 509.3 229.9 507 C232.4 504.8 235.3 503.1 238.4 502.2 C241.5 501.3 246.9 501.6 248.6 501.5" stroke-width="1.2" fill="none" />
<path d="M248.6 502 C250.2 500.3 252.8 499.9 255.4 499.8 C257.9 499.6 261.6 499.8 263.8 501 C266 502.2 267.8 504.6 268.7 507 C269.5 509.5 269.9 513.5 268.9 515.5 C267.9 517.6 265.3 518.6 262.6 519.4 C260 520.2 255.4 520.8 252.9 520.4 C250.5 520 249.3 518.7 248.1 517 C246.9 515.2 245.6 512.2 245.7 509.7 C245.8 507.2 247 503.6 248.6 502Z" stroke-width="1.2" fill="none" />
<path d="M226.8 525.7 C226.7 524.3 225.5 520.2 226.3 517.5 C227.1 514.7 229.6 511.4 231.6 509.5 C233.7 507.5 236.6 506.2 238.4 505.8 C240.2 505.5 241.2 506.2 242.3 507.3 C243.3 508.3 244.7 510.9 244.7 512.1 C244.7 513.3 243.3 514.4 242.3 514.5 C241.2 514.7 239.5 512.9 238.4 513.1 C237.4 513.3 236.2 514.8 236 516 C235.8 517.2 236.2 519.6 237.4 520.4 C238.7 521.1 242.3 520.4 243.3 520.4" stroke-width="1.2" fill="none" />
<path d="M243.3 520.4 L243.7 526.6 L240.3 527.6 L226.8 525.7" stroke-width="1.2" fill="none" />
<path d="M224.4 526.2 L226.8 525.7" stroke-width="1.2" fill="none" />
<path d="M238.4 502.2 C239 502.6 241.4 503.8 242 504.6 C242.7 505.5 242.2 506.8 242.3 507.3" stroke-width="1.2" fill="none" />
<ellipse cx="256.6" cy="512.1" rx="3.9" ry="5.3" transform="rotate(10 256.6 512.1)" stroke-width="1.5" fill="none"/>
<ellipse cx="289.2" cy="511.2" rx="2.7" ry="3.9" transform="rotate(25 289.2 511.2)" stroke-width="2.2" fill="none"/>
<path d="M221.5 485.3 L224.4 483.6 L227.5 485.3 L227.5 487.7 L224.6 489.4 L221.5 487.7Z" stroke-width="1.2" fill="none" />
<path d="M232.4 527.6 L233.1 533.9 L238.4 534.4 L239.6 527.6" stroke-width="1.2" fill="none" />
<path d="M261.4 519.4 L262.1 524.2 L267 523.5 L267.5 518.4" stroke-width="1.2" fill="none" />
<path d="M259.7 514 L293.6 531.8 L185.4 598.5 L211.3 612.7" stroke-width="1.2" fill="none" />
<path d="M291.7 511.8 L391.7 567.2" stroke-width="1.2" fill="none" />
<!-- bracket 10 -->
<path d="M345 594.9 L391.6 568.3 L409.9 576.6" stroke-width="1.2" fill="none" />
<path d="M409.9 576.6 C411.1 577.5 415.7 579.8 417.4 581.6 C419 583.4 419.4 586.5 419.8 587.5" stroke-width="1.2" fill="none" />
<path d="M419.8 587.5 L419.8 599.1 L373.3 624.1" stroke-width="1.2" fill="none" />
<path d="M345 594.9 C348.7 597 363 604.8 367.4 607.4 C371.9 610.1 370.7 609.5 371.6 610.8 C372.5 612 372.6 612.7 372.9 614.9 C373.2 617.1 373.2 622.5 373.3 624.1" stroke-width="1.2" fill="none" />
<path d="M348.3 599.1 C351.2 600.8 362.3 606.9 365.8 609.1 C369.2 611.3 368.4 610.9 369.1 612.4 C369.8 613.9 369.7 616.6 369.9 618.2 C370.1 619.9 370.2 621.9 370.3 622.6" stroke-width="1.2" fill="none" />
<path d="M370.3 622.6 L373.3 624.1" stroke-width="1.2" fill="none" />
<path d="M374.9 609.9 L417.4 585" stroke-width="1.1" fill="none" />
<path d="M345 594.9 C344.7 595.4 344.7 596.7 343.3 597.4 C341.9 598.1 338.9 598.6 336.6 599.1 C334.4 599.7 331.6 600 330 600.8 C328.4 601.5 327.4 602.5 327 603.6 C326.6 604.7 326.9 606.4 327.5 607.4 C328.1 608.4 328.6 609.4 330.8 609.6 C333 609.8 338.4 609.1 340.8 608.6 C343.2 608.1 344 608 345 606.6 C345.9 605.2 346.1 601.2 346.6 599.9 C347.2 598.7 348 599.2 348.3 599.1" stroke-width="1.6" fill="none" />
<ellipse cx="333" cy="604.3" rx="2.8" ry="1.7" transform="rotate(0 333 604.3)" stroke-width="1.6" fill="none"/>
<path d="M354.1 604.1 L359.1 605.3 L359.6 607.3" stroke-width="1.2" fill="none" />
<ellipse cx="399.9" cy="570.3" rx="2.5" ry="3.7" transform="rotate(-15 399.9 570.3)" stroke-width="1.8" fill="none"/>
<ellipse cx="400.2" cy="571" rx="1" ry="1.7" transform="rotate(-15 400.2 571)" stroke-width="1.2" fill="none"/>
<path d="M403.8 521.2 L400.8 567.2" stroke-width="1.2" fill="none" />
<path d="M447.7 542.4 L440.1 575.6" stroke-width="1.2" fill="none" />
<path d="M477.9 556 L461.3 586.2" stroke-width="1.2" fill="none" />
<path d="M408.3 574.1 L415.9 569.6 L432.5 578.1" stroke-width="1.2" fill="none" />
<text x="404.7" y="519.6" font-size="12.8" text-anchor="middle" textLength="17.2" lengthAdjust="spacingAndGlyphs" >10</text>
<text x="449" y="540.2" font-size="12.8" text-anchor="middle" textLength="17.2" lengthAdjust="spacingAndGlyphs" >17</text>
<text x="482.5" y="553" font-size="12.8" text-anchor="middle" textLength="17.2" lengthAdjust="spacingAndGlyphs" >16</text>
<ellipse cx="437.1" cy="580.4" rx="4.4" ry="5" transform="rotate(10 437.1 580.4)" stroke-width="2" fill="none"/>
<ellipse cx="437.8" cy="580.5" rx="1.7" ry="2.4" transform="rotate(10 437.8 580.5)" stroke-width="1.9" fill="none"/>
<path d="M435.4 582.7 L438.6 583.8" stroke-width="1.5" fill="none" />
<path d="M444.3 583.1 L453.1 587 L451.3 592 L443.4 587.7Z" stroke-width="0" fill="#fff" />
<path d="M444.3 583.1 L453.1 587" stroke-width="1.2" fill="none" />
<path d="M443.4 587.7 L451.3 592" stroke-width="1.2" fill="none" />
<ellipse cx="444.1" cy="585.4" rx="1.2" ry="2.4" transform="rotate(22 444.1 585.4)" stroke-width="1.2" fill="#fff"/>
<ellipse cx="446.5" cy="586.5" rx="1.2" ry="2.5" transform="rotate(22 446.5 586.5)" stroke-width="1.5" fill="none"/>
<ellipse cx="448.7" cy="587.5" rx="1.2" ry="2.5" transform="rotate(22 448.7 587.5)" stroke-width="1.5" fill="none"/>
<ellipse cx="450.9" cy="588.5" rx="1.2" ry="2.5" transform="rotate(22 450.9 588.5)" stroke-width="1.5" fill="none"/>
<path d="M455.9 585.4 C455.4 585.6 454.1 586 453.4 586.5 C452.7 587 452.1 587.5 451.8 588.3 C451.4 589.1 451.2 590.2 451.3 591.3 C451.4 592.4 451.8 593.8 452.5 594.9 C453.2 596.1 454.9 597.6 455.4 598.1" stroke-width="1.2" fill="#fff" />
<path d="M455.9 585.4 L459.6 585.8" stroke-width="1.2" fill="none" />
<path d="M455.4 598.1 L458.1 598.9" stroke-width="1.2" fill="none" />
<ellipse cx="459.9" cy="592.5" rx="4.2" ry="5.9" transform="rotate(22 459.9 592.5)" stroke-width="1.6" fill="#fff"/>
<path d="M452.9 587.2 L452 594.9" stroke-width="1.2" fill="none" />
<path d="M454.5 586.3 L453.8 596.7" stroke-width="1.2" fill="none" />
<!-- 3 4 -->
<path d="M215.2 609.5 L221.8 612.9" stroke-width="2.8" fill="none" />
<path d="M212 617.2 L218.4 620.4" stroke-width="2.8" fill="none" />
<path d="M220.7 612.3 L224.5 610.6 L231 614.2 L230.5 617.4 L227 618.8 L220.7 615.4Z" stroke-width="1.6" fill="#fff" />
<ellipse cx="226.7" cy="614.7" rx="1.5" ry="3.8" transform="rotate(29 226.7 614.7)" stroke-width="2" fill="#fff"/>
<path d="M217.7 620 L221.5 618.5 L228 621.8 L227.6 625.3 L224.2 626.7 L217.7 623.1Z" stroke-width="1.6" fill="#fff" />
<ellipse cx="224" cy="622.6" rx="1.5" ry="3.8" transform="rotate(29 224 622.6)" stroke-width="2" fill="#fff"/>
<path d="M230.8 616.1 L247.9 628.3" stroke-width="1.4" fill="none" />
<path d="M230.2 617.4 L247 629.4" stroke-width="1.4" fill="none" />
<path d="M228 624 L244.9 633.5" stroke-width="1.4" fill="none" />
<path d="M227.5 625.3 L244.1 634.9" stroke-width="1.4" fill="none" />
<path d="M251.1 628.9 L262.4 633.5 L256.5 650.1 L244.5 641.3Z" stroke-width="0" fill="#fff" />
<ellipse cx="247.8" cy="635.1" rx="3" ry="7.1" transform="rotate(29 247.8 635.1)" stroke-width="1.2" fill="#fff"/>
<path d="M251.1 628.9 L260.6 632.7" stroke-width="1.2" fill="none" />
<path d="M244.5 641.3 L256.5 650.1" stroke-width="1.2" fill="none" />
<path d="M254.2 630.2 C253.8 631.1 252.9 633.9 252 635.7 C251.1 637.4 249.7 639.4 249 640.8 C248.3 642.3 248.1 643.7 247.9 644.3" stroke-width="1.2" fill="none" />
<ellipse cx="259.9" cy="642.8" rx="3.3" ry="8.6" transform="rotate(29 259.9 642.8)" stroke-width="1.9" fill="#fff"/>
<ellipse cx="261.8" cy="643.7" rx="3.3" ry="8.6" transform="rotate(29 261.8 643.7)" stroke-width="1.9" fill="#fff"/>
<path d="M265.1 636.8 L272.8 639.2 L268.1 653.8 L258.5 651.1Z" stroke-width="0" fill="#fff" />
<path d="M265.1 637 L273.3 639.5" stroke-width="1.2" fill="none" />
<path d="M258.8 651.2 L268.1 653.9" stroke-width="1.2" fill="none" />
<ellipse cx="270.8" cy="646.6" rx="3" ry="7.1" transform="rotate(29 270.8 646.6)" stroke-width="1.8" fill="#fff"/>
<ellipse cx="271.9" cy="647" rx="1.8" ry="4.1" transform="rotate(29 271.9 647)" stroke-width="1.2" fill="#fff"/>
<path d="M273.5 643.3 L276.9 644.7" stroke-width="1.2" fill="none" />
<path d="M269.8 650.7 L273.5 652.8" stroke-width="1.2" fill="none" />
<ellipse cx="275.3" cy="648.7" rx="1.8" ry="4.1" transform="rotate(29 275.3 648.7)" stroke-width="1.2" fill="#fff"/>
<text x="174" y="637.5" font-size="12.8" text-anchor="middle" textLength="8.2" lengthAdjust="spacingAndGlyphs" >3</text>
<path d="M178.6 638.5 L185.4 645.4 L190.8 639.4 L242.6 638.5" stroke-width="1.2" fill="none" />
<path d="M185.4 645.4 L180.5 651.3 L184 657.6" stroke-width="1.2" fill="none" />
<text x="189.2" y="668.6" font-size="12.8" text-anchor="middle" textLength="8.2" lengthAdjust="spacingAndGlyphs" >4</text>
<path d="M192.5 668.3 L205 689.1" stroke-width="1.2" fill="none" />
<path d="M195.1 686.1 L230.4 705.4 L221.8 721.4 L186.5 702.1Z" stroke-width="0" fill="#fff" />
<path d="M195.1 686.1 L230.4 705.4" stroke-width="1.1" fill="none" />
<path d="M186.5 702.1 L221.8 721.4" stroke-width="1.1" fill="none" />
<path d="M195.1 686.2 C195 686.2 194.5 686.1 194.1 686.2 C193.8 686.3 193.3 686.6 192.8 686.9 C192.4 687.3 191.8 687.8 191.3 688.4 C190.8 688.9 190.3 689.6 189.8 690.4 C189.3 691.1 188.8 691.9 188.3 692.7 C187.9 693.6 187.5 694.4 187.1 695.2 C186.8 696.1 186.5 696.9 186.3 697.6 C186.1 698.4 185.9 699.1 185.9 699.7 C185.8 700.3 185.9 700.8 186 701.2 C186.1 701.6 186.4 701.9 186.5 702" stroke-width="1.7" fill="none" />
<path d="M195.1 686.2 C195.2 686.3 195.6 686.6 195.7 687 C195.8 687.4 195.8 687.9 195.8 688.5 C195.7 689.1 195.6 689.8 195.4 690.6 C195.1 691.3 194.9 692.1 194.5 692.9 C194.2 693.8 193.7 694.6 193.3 695.5 C192.9 696.3 192.4 697.1 191.8 697.8 C191.3 698.6 190.8 699.3 190.3 699.8 C189.8 700.4 189.3 700.9 188.8 701.3 C188.3 701.6 187.9 701.9 187.5 702 C187.1 702.1 186.7 702 186.5 702" stroke-width="1.2" fill="none" />
<path d="M197.4 687.5 C197.2 687.4 196.8 687.3 196.4 687.4 C196 687.5 195.6 687.8 195.1 688.2 C194.6 688.5 194.1 689 193.6 689.6 C193.1 690.2 192.6 690.9 192.1 691.6 C191.6 692.3 191.1 693.2 190.6 694 C190.2 694.8 189.7 695.7 189.4 696.5 C189.1 697.3 188.8 698.1 188.6 698.9 C188.3 699.6 188.2 700.3 188.2 700.9 C188.1 701.5 188.1 702 188.2 702.4 C188.3 702.8 188.7 703.1 188.8 703.2" stroke-width="1.7" fill="none" />
<path d="M199.7 688.7 C199.5 688.7 199.1 688.5 198.7 688.7 C198.3 688.8 197.9 689 197.4 689.4 C196.9 689.8 196.4 690.3 195.9 690.9 C195.4 691.4 194.8 692.1 194.3 692.9 C193.8 693.6 193.3 694.4 192.9 695.2 C192.4 696 192 696.9 191.7 697.7 C191.3 698.6 191 699.4 190.8 700.1 C190.6 700.9 190.5 701.6 190.4 702.2 C190.4 702.8 190.4 703.3 190.5 703.7 C190.6 704.1 191 704.3 191.1 704.5" stroke-width="1.7" fill="none" />
<path d="M201.9 689.9 C201.8 689.9 201.3 689.8 201 689.9 C200.6 690 200.1 690.3 199.7 690.6 C199.2 691 198.7 691.5 198.2 692.1 C197.7 692.7 197.1 693.4 196.6 694.1 C196.1 694.8 195.6 695.7 195.2 696.5 C194.7 697.3 194.3 698.2 193.9 699 C193.6 699.8 193.3 700.6 193.1 701.4 C192.9 702.1 192.8 702.8 192.7 703.4 C192.6 704 192.7 704.5 192.8 704.9 C192.9 705.3 193.2 705.6 193.3 705.7" stroke-width="1.7" fill="none" />
<path d="M204.2 691.2 C204.1 691.2 203.6 691 203.2 691.1 C202.9 691.3 202.4 691.5 201.9 691.9 C201.5 692.3 200.9 692.8 200.4 693.3 C199.9 693.9 199.4 694.6 198.9 695.3 C198.4 696.1 197.9 696.9 197.4 697.7 C197 698.5 196.6 699.4 196.2 700.2 C195.9 701 195.6 701.9 195.4 702.6 C195.2 703.4 195 704.1 195 704.7 C194.9 705.2 194.9 705.8 195.1 706.2 C195.2 706.5 195.5 706.8 195.6 707" stroke-width="1.7" fill="none" />
<path d="M206.5 692.4 C206.3 692.4 205.9 692.3 205.5 692.4 C205.1 692.5 204.7 692.8 204.2 693.1 C203.7 693.5 203.2 694 202.7 694.6 C202.2 695.2 201.7 695.9 201.2 696.6 C200.7 697.3 200.1 698.1 199.7 699 C199.3 699.8 198.8 700.6 198.5 701.5 C198.2 702.3 197.9 703.1 197.7 703.9 C197.4 704.6 197.3 705.3 197.2 705.9 C197.2 706.5 197.2 707 197.3 707.4 C197.4 707.8 197.8 708.1 197.9 708.2" stroke-width="1.7" fill="none" />
<path d="M208.8 693.7 C208.6 693.7 208.2 693.5 207.8 693.6 C207.4 693.8 207 694 206.5 694.4 C206 694.7 205.5 695.2 205 695.8 C204.5 696.4 203.9 697.1 203.4 697.8 C202.9 698.6 202.4 699.4 202 700.2 C201.5 701 201.1 701.9 200.8 702.7 C200.4 703.5 200.1 704.4 199.9 705.1 C199.7 705.8 199.6 706.6 199.5 707.1 C199.5 707.7 199.5 708.3 199.6 708.6 C199.7 709 200.1 709.3 200.2 709.4" stroke-width="1.7" fill="none" />
<path d="M211 694.9 C210.9 694.9 210.4 694.8 210.1 694.9 C209.7 695 209.2 695.3 208.8 695.6 C208.3 696 207.8 696.5 207.3 697.1 C206.7 697.6 206.2 698.3 205.7 699.1 C205.2 699.8 204.7 700.6 204.3 701.4 C203.8 702.3 203.4 703.1 203 703.9 C202.7 704.8 202.4 705.6 202.2 706.3 C202 707.1 201.9 707.8 201.8 708.4 C201.7 709 201.8 709.5 201.9 709.9 C202 710.3 202.3 710.6 202.4 710.7" stroke-width="1.7" fill="none" />
<path d="M213.3 696.2 C213.2 696.1 212.7 696 212.3 696.1 C212 696.2 211.5 696.5 211 696.9 C210.6 697.2 210 697.7 209.5 698.3 C209 698.9 208.5 699.6 208 700.3 C207.5 701 207 701.9 206.5 702.7 C206.1 703.5 205.7 704.4 205.3 705.2 C205 706 204.7 706.8 204.5 707.6 C204.3 708.3 204.1 709 204.1 709.6 C204 710.2 204 710.7 204.2 711.1 C204.3 711.5 204.6 711.8 204.7 711.9" stroke-width="1.7" fill="none" />
<path d="M215.6 697.4 C215.4 697.4 215 697.2 214.6 697.4 C214.2 697.5 213.8 697.7 213.3 698.1 C212.8 698.5 212.3 699 211.8 699.5 C211.3 700.1 210.8 700.8 210.3 701.6 C209.8 702.3 209.2 703.1 208.8 703.9 C208.4 704.7 207.9 705.6 207.6 706.4 C207.3 707.2 207 708.1 206.7 708.8 C206.5 709.6 206.4 710.3 206.3 710.9 C206.3 711.5 206.3 712 206.4 712.4 C206.5 712.8 206.9 713 207 713.2" stroke-width="1.7" fill="none" />
<path d="M217.9 698.6 C217.7 698.6 217.3 698.5 216.9 698.6 C216.5 698.7 216 699 215.6 699.3 C215.1 699.7 214.6 700.2 214.1 700.8 C213.6 701.4 213 702.1 212.5 702.8 C212 703.5 211.5 704.4 211.1 705.2 C210.6 706 210.2 706.9 209.9 707.7 C209.5 708.5 209.2 709.3 209 710.1 C208.8 710.8 208.7 711.5 208.6 712.1 C208.6 712.7 208.6 713.2 208.7 713.6 C208.8 714 209.2 714.3 209.3 714.4" stroke-width="1.7" fill="none" />
<path d="M220.1 699.9 C220 699.9 219.5 699.7 219.2 699.8 C218.8 700 218.3 700.2 217.9 700.6 C217.4 701 216.9 701.5 216.4 702 C215.8 702.6 215.3 703.3 214.8 704 C214.3 704.8 213.8 705.6 213.4 706.4 C212.9 707.2 212.5 708.1 212.1 708.9 C211.8 709.7 211.5 710.6 211.3 711.3 C211.1 712 210.9 712.8 210.9 713.4 C210.8 713.9 210.9 714.5 211 714.9 C211.1 715.2 211.4 715.5 211.5 715.7" stroke-width="1.7" fill="none" />
<path d="M222.4 701.1 C222.2 701.1 221.8 701 221.4 701.1 C221.1 701.2 220.6 701.5 220.1 701.8 C219.7 702.2 219.1 702.7 218.6 703.3 C218.1 703.9 217.6 704.6 217.1 705.3 C216.6 706 216.1 706.8 215.6 707.7 C215.2 708.5 214.8 709.3 214.4 710.2 C214.1 711 213.8 711.8 213.6 712.6 C213.4 713.3 213.2 714 213.2 714.6 C213.1 715.2 213.1 715.7 213.3 716.1 C213.4 716.5 213.7 716.8 213.8 716.9" stroke-width="1.7" fill="none" />
<path d="M224.7 702.4 C224.5 702.4 224.1 702.2 223.7 702.3 C223.3 702.4 222.9 702.7 222.4 703.1 C221.9 703.4 221.4 703.9 220.9 704.5 C220.4 705.1 219.9 705.8 219.4 706.5 C218.8 707.3 218.3 708.1 217.9 708.9 C217.5 709.7 217 710.6 216.7 711.4 C216.3 712.2 216.1 713.1 215.8 713.8 C215.6 714.5 215.5 715.2 215.4 715.8 C215.4 716.4 215.4 717 215.5 717.3 C215.6 717.7 216 718 216.1 718.1" stroke-width="1.7" fill="none" />
<path d="M227 703.6 C226.8 703.6 226.4 703.5 226 703.6 C225.6 703.7 225.1 704 224.7 704.3 C224.2 704.7 223.7 705.2 223.2 705.8 C222.7 706.3 222.1 707 221.6 707.8 C221.1 708.5 220.6 709.3 220.2 710.1 C219.7 711 219.3 711.8 219 712.6 C218.6 713.5 218.3 714.3 218.1 715 C217.9 715.8 217.8 716.5 217.7 717.1 C217.7 717.7 217.7 718.2 217.8 718.6 C217.9 719 218.3 719.3 218.4 719.4" stroke-width="1.7" fill="none" />
<path d="M229.2 704.8 C229.1 704.8 228.6 704.7 228.3 704.8 C227.9 704.9 227.4 705.2 227 705.6 C226.5 705.9 226 706.4 225.5 707 C224.9 707.6 224.4 708.3 223.9 709 C223.4 709.7 222.9 710.6 222.4 711.4 C222 712.2 221.6 713.1 221.2 713.9 C220.9 714.7 220.6 715.5 220.4 716.3 C220.2 717 220 717.7 220 718.3 C219.9 718.9 220 719.4 220.1 719.8 C220.2 720.2 220.5 720.5 220.6 720.6" stroke-width="1.7" fill="none" />
<ellipse cx="226.1" cy="713.4" rx="6.3" ry="9" transform="rotate(28.6 226.1 713.4)" stroke-width="1.8" fill="#fff"/>
<ellipse cx="225.6" cy="713.9" rx="4" ry="6.3" transform="rotate(28.6 225.6 713.9)" stroke-width="1.5" fill="none"/>
<path d="M205 689.1 C206.1 688.4 209.5 686.2 211.6 684.9 C213.8 683.7 216.9 682.2 217.9 681.6" stroke-width="1.5" fill="none" />
<path d="M217.6 680 L222.9 678 L224.3 681.3 L218.9 683.3Z" stroke-width="1.9" fill="#fff" />
<path d="M219.9 679.3 L221.1 682.6" stroke-width="1.5" fill="none" />
<path d="M224.1 678 C225 676.4 227.7 672.8 229.9 670.3 C232.1 667.8 235.2 665.1 237.4 663 C239.6 660.9 241.4 658.7 243.2 657.7 C245 656.6 247.1 656.4 248.2 656.7 C249.4 656.9 250.5 658 250.2 659 C249.9 660 247.6 661.6 246.6 662.5 C245.5 663.4 244.7 663.6 244.1 664.3 C243.4 665 242.2 666 242.6 666.6 C242.9 667.3 244.9 668.9 246.2 668.3 C247.6 667.8 249.7 663.9 250.7 663.3 C251.8 662.8 252.4 664.1 252.6 665 C252.7 665.9 252.1 667.5 251.6 668.6 C251 669.7 250.4 670.9 249.1 671.6 C247.7 672.4 245.3 673.1 243.2 673.3 C241.2 673.5 238.8 672.1 236.6 672.6 C234.4 673.2 231.9 675.5 229.9 676.6 C227.9 677.8 225.6 679.4 224.6 679.6 C223.6 679.8 223.2 679.5 224.1 678Z" stroke-width="1.8" fill="#fff" />
<path d="M230.8 672.5 C231.9 671.5 235.2 668.7 237.4 666.6 C239.6 664.6 242.4 661.6 244.1 660.3 C245.7 659 246.8 658.9 247.4 658.7" stroke-width="1.2" fill="none" />
<ellipse cx="233.6" cy="673.3" rx="1.2" ry="1.2" transform="rotate(0 233.6 673.3)" stroke-width="2.8" fill="none"/>
<path d="M238.2 669.6 L245.7 670.3" stroke-width="2" fill="none" />
<path d="M232.9 704.6 C233.7 704 235.9 702.3 237.4 701.3 C238.9 700.3 241.2 699 241.9 698.6" stroke-width="1.5" fill="none" />
<path d="M240.9 696.6 L245.9 694.6 L247.2 697.9 L242.2 699.9Z" stroke-width="1.9" fill="#fff" />
<path d="M243.2 695.8 L244.4 699.3" stroke-width="1.5" fill="none" />
<path d="M246.9 695.3 C247.4 693.8 250.2 692.1 253.2 689.3 C256.2 686.4 262 680.5 264.9 678.3 C267.8 676.1 268.7 676.2 270.7 676.3 C272.7 676.3 275.8 677.5 276.9 678.6 C277.9 679.8 278 681.8 276.9 683.3 C275.7 684.8 273 685.9 269.9 687.6 C266.8 689.3 261.5 691.9 258.2 693.6 C254.9 695.3 252.1 697.7 250.2 697.9 C248.3 698.2 246.4 696.7 246.9 695.3Z" stroke-width="1.9" fill="#fff" />
<path d="M255.2 689.9 C256.6 688.3 263.7 682.7 266.5 681 C269.4 679.2 271.1 679.5 272.4 679.6 C273.6 679.8 274.5 681 273.9 682 C273.2 682.9 271.1 683.8 268.5 685.3 C266 686.8 260.8 690.2 258.5 690.9 C256.3 691.7 253.9 691.6 255.2 689.9Z" stroke-width="1.5" fill="none" />
<path d="M248.6 695.3 L256.9 690.9" stroke-width="4.4" fill="none" />
<path d="M249.6 696.9 L258.2 692.9" stroke-width="2.5" fill="none" />
<!-- tube -->
<path d="M298.8 586.5 C297.3 587.2 294.8 587.7 289.7 590.4 C284.6 593 272.4 599.8 268.2 602.4 C263.9 605.1 264.9 604.9 264.1 606.3 C263.2 607.7 263 609.2 263.2 610.8 C263.3 612.4 263.7 614.4 264.8 616 C265.8 617.6 268.5 619.8 269.3 620.6" stroke-width="1.2" fill="none" />
<path d="M303.3 593.3 C301.6 593.8 297.3 594 293.1 596.1 C289 598.1 281.5 603.2 278.4 605.4 C275.3 607.5 275.2 607.7 274.5 608.8 C273.9 609.8 274 610.5 274.5 611.5 C275 612.4 277.2 613.9 277.7 614.4" stroke-width="1.2" fill="none" />
<path d="M290.8 588.8 L298.8 586.5" stroke-width="1.2" fill="none" />
<path d="M293.1 596.1 L301.7 593.8" stroke-width="1.2" fill="none" />
<path d="M269.3 620.6 L345.7 662.7" stroke-width="1.2" fill="none" />
<path d="M277.7 614.4 L348.7 654.4" stroke-width="1.2" fill="none" />
<!-- switch -->
<path d="M357.5 653.3 C358.2 652.5 360.5 649.7 361.7 648.8 C363 647.9 363.7 647.4 365 647.6 C366.3 647.9 368.8 649.2 369.7 650.3 C370.5 651.4 370.8 652.9 370.3 654 C369.8 655.1 367.9 656 366.7 656.6 C365.4 657.3 364 657.8 362.8 657.8 C361.6 657.8 360.1 657 359.6 656.9" stroke-width="1.6" fill="#fff" />
<path d="M362.8 657.8 C363.2 658.1 364.4 660 365.4 659.8 C366.5 659.7 368.3 657.8 369.1 656.9 C369.9 655.9 370.1 654.5 370.3 654" stroke-width="1.2" fill="none" />
<ellipse cx="364.6" cy="651.6" rx="2.3" ry="1.4" transform="rotate(-10 364.6 651.6)" stroke-width="1.2" fill="none"/>
<path d="M346.6 658.6 C346.7 657.3 347.2 656.1 348.3 655.2 C349.3 654.2 351.2 653 352.7 652.7 C354.2 652.4 356.3 652.6 357.5 653.3 C358.6 653.9 359.9 656.1 359.6 656.9 C359.3 657.6 357.1 657.2 355.9 657.9 C354.7 658.6 352.9 659.6 352.5 660.9 C352.1 662.1 352.8 664.2 353.2 665.3 C353.6 666.5 355.3 667.7 354.8 667.9 C354.4 668.1 351.8 667.5 350.6 666.6 C349.4 665.8 348.1 664.1 347.4 662.8 C346.7 661.4 346.4 659.8 346.6 658.6Z" stroke-width="1.6" fill="#fff" />
<path d="M350.6 655.6 C350.4 656.2 349.4 658 349.3 659.3 C349.3 660.6 349.8 662.2 350.4 663.5 C351 664.8 352.5 666.4 352.9 667" stroke-width="1.2" fill="none" />
<path d="M357.5 658.6 L376.5 670.4" stroke-width="1.2" fill="none" />
<path d="M354.8 667.9 L373 677" stroke-width="1.2" fill="none" />
<path d="M373 677 C372.8 675.6 373 673.9 373.7 672.7 C374.3 671.6 375.7 670.4 377.1 670.2 C378.4 670 380.7 670.9 381.9 671.5 C383.2 672.1 384.3 673.1 384.5 673.8 C384.7 674.5 383.9 675.3 383.2 675.5 C382.5 675.7 381.1 674.6 380 674.9 C378.9 675.1 377.5 675.9 376.6 677 C375.8 678 375.8 681.2 375.2 681.2 C374.6 681.2 373.3 678.4 373 677Z" stroke-width="1.6" fill="#fff" />
<path d="M377.3 670.4 C377 671 375.8 672.4 375.4 673.8 C375 675.2 375 678 374.9 678.9" stroke-width="1.2" fill="none" />
<path d="M382.4 678 L389.8 673.2 L395.1 675.2 L397.8 677.8 L397.8 681 L389.8 685.9 L383.4 682.3Z" stroke-width="1.6" fill="#fff" />
<path d="M385 676.6 L386.2 682.9" stroke-width="2.1" fill="none" />
<path d="M387.7 675 L389 681.9" stroke-width="2.1" fill="none" />
<path d="M390.6 673.8 L392 680.8" stroke-width="2.1" fill="none" />
<path d="M393.6 674.9 L394.8 679.3" stroke-width="2.1" fill="none" />
<path d="M383.6 679.9 L390 675.7 L397.7 679.1" stroke-width="1.2" fill="none" />
<path d="M393.5 682.1 C394.5 682.4 397.6 683.1 399.3 684.2 C401 685.2 402.8 687 403.5 688.4 C404.3 689.8 404.2 691.4 403.8 692.7 C403.3 693.9 401.1 695.5 400.6 696" stroke-width="3" fill="none" />
<path d="M391 683.8 C392.1 684.2 395.5 685.2 397.2 686.3 C398.8 687.4 400.3 689.1 400.9 690.5 C401.5 691.9 401 693.7 400.6 694.8 C400.2 695.9 398.8 696.7 398.5 697.1" stroke-width="2.5" fill="none" />
<path d="M389.8 685.8 C390.7 686.2 393.7 687.4 395.1 688.4 C396.4 689.5 397.3 691.5 397.7 692.1" stroke-width="1.8" fill="none" />
<path d="M329.4 679.6 C329.2 678.8 328.8 677.7 329.1 677.1 C329.3 676.4 329.3 676.2 330.9 675.6 C332.5 674.9 337.1 673.2 338.9 673 C340.7 672.8 341.1 673.7 341.6 674.5 C342.1 675.3 342.2 677 341.9 677.8 C341.7 678.7 341.6 678.8 340 679.6 C338.4 680.5 334 682.6 332.4 683 C330.8 683.4 330.8 682.6 330.3 682.1 C329.8 681.5 329.6 680.5 329.4 679.6Z" stroke-width="1.5" fill="#fff" />
<ellipse cx="331.5" cy="679.3" rx="1.8" ry="3" transform="rotate(-20 331.5 679.3)" stroke-width="1.2" fill="none"/>
<path d="M335.1 684.5 C334.9 683.6 334.6 682.6 334.8 681.9 C335.1 681.2 335 681.1 336.6 680.4 C338.3 679.7 342.9 678 344.7 677.8 C346.4 677.6 346.9 678.5 347.4 679.3 C347.9 680.1 348 681.8 347.7 682.7 C347.4 683.5 347.3 683.6 345.7 684.5 C344.1 685.3 339.8 687.4 338.2 687.8 C336.5 688.2 336.5 687.5 336 686.9 C335.5 686.3 335.3 685.3 335.1 684.5Z" stroke-width="1.5" fill="#fff" />
<ellipse cx="337.2" cy="684.2" rx="1.8" ry="3" transform="rotate(-20 337.2 684.2)" stroke-width="1.2" fill="none"/>
<path d="M341.6 674 C343.1 673.5 347.3 671.5 350.3 671 C353.2 670.5 357.8 671 359.3 671" stroke-width="1.2" fill="none" />
<path d="M342.1 676.3 C343.7 675.8 347.9 673.4 351.8 673 C355.7 672.6 363.1 673.9 365.4 674" stroke-width="1.2" fill="none" />
<path d="M347.2 679.6 C349 679.1 354 676.9 357.8 676.3 C361.6 675.8 367.9 676.3 369.9 676.3" stroke-width="1.2" fill="none" />
<path d="M347.7 681.8 C349.6 681.1 355.1 678.8 359.3 678.1 C363.5 677.5 370.7 677.9 373 677.8" stroke-width="1.2" fill="none" />
<path d="M374.9 693.2 L383.4 690.5 L387.3 712.8 L381.6 715.2Z" stroke-width="0" fill="#fff" />
<path d="M374.9 693.2 L383.4 690.5" stroke-width="1.2" fill="none" />
<path d="M381.6 715.2 L387.3 712.8" stroke-width="1.2" fill="none" />
<ellipse cx="366.7" cy="709.6" rx="3.6" ry="11.1" transform="rotate(-19 366.7 709.6)" stroke-width="2.5" fill="#fff"/>
<ellipse cx="370.3" cy="707.9" rx="3.6" ry="11.1" transform="rotate(-19 370.3 707.9)" stroke-width="2.5" fill="#fff"/>
<ellipse cx="374" cy="706.2" rx="3.6" ry="11.1" transform="rotate(-19 374 706.2)" stroke-width="2.5" fill="#fff"/>
<ellipse cx="377.4" cy="704.8" rx="3.6" ry="11.1" transform="rotate(-19 377.4 704.8)" stroke-width="2.5" fill="#fff"/>
<ellipse cx="380.3" cy="703.6" rx="3.6" ry="11.1" transform="rotate(-19 380.3 703.6)" stroke-width="1.6" fill="#fff"/>
<path d="M373.1 689.8 L391.9 695.1 L391.9 711.3 L387.3 713.5 L386.8 710.1 L384.6 699.2 L373.5 693.4Z" stroke-width="0" fill="#fff" />
<path d="M373.5 693.4 L373.1 689.8 L391.9 695.1 L391.9 711.3 L387.3 713.5" stroke-width="1.2" fill="none" />
<path d="M373.1 689.8 L381 684.7 L397.9 692.7 L391.9 695.1Z" stroke-width="1.2" fill="#fff" />
<path d="M391.9 695.1 L397.9 692.7 L398.2 707.7 L391.9 711.3Z" stroke-width="1.2" fill="#fff" />
<ellipse cx="376.8" cy="690.4" rx="3" ry="1.2" transform="rotate(22 376.8 690.4)" stroke-width="1.2" fill="#fff"/>
<ellipse cx="386.1" cy="697.8" rx="1.9" ry="2.4" transform="rotate(0 386.1 697.8)" stroke-width="1.2" fill="#fff"/>
<ellipse cx="388" cy="708.6" rx="1.9" ry="2.4" transform="rotate(0 388 708.6)" stroke-width="1.2" fill="#fff"/>
<path d="M388 699.2 L390.1 701 L390.1 705.3" stroke-width="1.2" fill="none" />
<path d="M381 686.6 L381 689.3" stroke-width="1.8" fill="none" />
<path d="M358.6 703.8 C359.2 703.5 361 701.9 362.2 702.1 C363.4 702.4 365.1 703.9 365.9 705.3 C366.7 706.6 366.8 707.5 367.1 710.1 C367.4 712.7 368.2 718.8 367.7 721 C367.2 723.2 364.7 723 364 723.4" stroke-width="1.6" fill="#fff" />
<path d="M343.5 715.5 C343.8 712.9 344.1 711.8 345.3 710.1 C346.5 708.4 348.7 706.6 350.7 705.5 C352.8 704.4 355.8 703.5 357.4 703.3 C359 703.1 359.5 703.6 360.2 704.3 C360.8 705 360.9 705.5 361.4 707.4 C361.9 709.4 362.6 713.5 363.1 716.1 C363.5 718.8 364.7 721.9 364 723.4 C363.4 724.9 361.6 724.5 359.2 725.3 C356.8 726.2 351.8 728 349.5 728.5 C347.2 729 346.4 728.7 345.4 728.3 C344.4 727.8 343.8 728 343.5 725.8 C343.1 723.7 343.2 718.2 343.5 715.5Z" stroke-width="1.9" fill="#fff" />
<path d="M347.1 715.9 C347.3 714 346.7 714.7 348.3 713.7 C349.9 712.8 355.1 710.5 356.8 710.1 C358.5 709.7 358.2 710.1 358.6 711.3 C359 712.5 358.9 715.4 359 717.4 C359.1 719.3 360.8 721.3 359.2 722.8 C357.6 724.3 351.5 726 349.5 726.4 C347.5 726.8 347.5 727 347.1 725.2 C346.7 723.5 346.9 717.8 347.1 715.9Z" stroke-width="1.6" fill="none" />
<path d="M349.3 715.5 L349.8 725.6" stroke-width="2.4" fill="none" />
<text x="276.8" y="721.5" font-size="12.8" text-anchor="middle" textLength="8.2" lengthAdjust="spacingAndGlyphs" >1</text>
<text x="301.5" y="725.9" font-size="12.8" text-anchor="middle" textLength="8.2" lengthAdjust="spacingAndGlyphs" >2</text>
<path d="M283.5 715.8 L288.8 715.8" stroke-width="1.2" fill="none" />
<path d="M375 682.6 L288.8 711.2 L288.8 719.7 L293 720.7" stroke-width="1.2" fill="none" />
<path d="M310 720.7 L342.9 720.7" stroke-width="1.2" fill="none" />
<path d="M448.4 637.7 L407.6 645.9" stroke-width="1.2" fill="none" />
<path d="M368.1 655.4 L403.5 638.5 L403.5 643.1" stroke-width="1.2" fill="none" />
<ellipse cx="402.9" cy="647.2" rx="5.4" ry="3.3" transform="rotate(0 402.9 647.2)" stroke-width="2.1" fill="none"/>
<ellipse cx="402.9" cy="646.4" rx="2.2" ry="1.1" transform="rotate(0 402.9 646.4)" stroke-width="1.2" fill="none"/>
<path d="M448.4 666.3 L408.9 669" stroke-width="1.2" fill="none" />
<ellipse cx="403.5" cy="669.6" rx="5.4" ry="3.3" transform="rotate(0 403.5 669.6)" stroke-width="1.6" fill="#fff"/>
<ellipse cx="403.5" cy="667.9" rx="5.4" ry="3" transform="rotate(0 403.5 667.9)" stroke-width="1.5" fill="#fff"/>
<path d="M400.2 658.7 L400.2 666.3" stroke-width="1.2" fill="none" />
<path d="M406.7 658.7 L406.7 666.3" stroke-width="1.2" fill="none" />
<path d="M400.2 659.8 L406.7 658.9" stroke-width="1.5" fill="none" />
<path d="M400.2 661.7 L406.7 660.8" stroke-width="1.5" fill="none" />
<path d="M400.2 663.6 L406.7 662.8" stroke-width="1.5" fill="none" />
<path d="M400.2 665.5 L406.7 664.7" stroke-width="1.5" fill="none" />
<path d="M400.2 658.7 C400.8 658.4 402.4 657.3 403.5 657.3 C404.6 657.3 406.2 658.4 406.7 658.7" stroke-width="1.2" fill="none" />
<text x="455.2" y="639.5" font-size="12.8" text-anchor="middle" textLength="8.2" lengthAdjust="spacingAndGlyphs" >9</text>
<text x="455.2" y="670.4" font-size="12.8" text-anchor="middle" textLength="8.2" lengthAdjust="spacingAndGlyphs" >8</text>
<!-- bracket 11 -->
<path d="M353 742.5 L381 725.1" stroke-width="1.2" fill="none" />
<path d="M381 725.1 C381.2 726.1 381.7 729.6 382.2 731.2 C382.6 732.7 383 733.8 383.7 734.5 C384.4 735.3 385.4 735.9 386.3 735.7 C387.1 735.5 388.3 735 388.8 733.4 C389.4 731.9 389.4 728.8 389.4 726.6 C389.5 724.5 389.3 721.6 389.3 720.6" stroke-width="1.2" fill="none" />
<path d="M389.3 720.6 C389.8 720.2 391.2 718.8 392.3 718.3 C393.4 717.9 394.7 717.8 395.8 717.9 C396.9 717.9 398.6 718.6 399.1 718.8" stroke-width="1.2" fill="none" />
<path d="M399.1 718.8 L418.8 730.4" stroke-width="1.2" fill="none" />
<path d="M418.8 730.4 C419 730.8 420 731.6 420.3 732.4 C420.6 733.1 420.4 734.5 420.5 735" stroke-width="1.2" fill="none" />
<path d="M420.5 735 L420.3 742.5 L375.2 771.3" stroke-width="1.2" fill="none" />
<path d="M375.2 771.3 C374.8 771.4 373.5 772 372.7 772 C371.8 772 370.8 771.4 370.4 771.3" stroke-width="1.2" fill="none" />
<path d="M370.4 771.3 L350.4 758.7" stroke-width="1.2" fill="none" />
<path d="M350.4 758.7 C350.1 758.2 348.9 756.6 348.4 755.4 C348 754.1 347.6 752.3 347.7 751.1 C347.8 750 349 749 349.2 748.6" stroke-width="1.2" fill="none" />
<path d="M350.1 750.5 C350.3 751.3 350.6 753.7 351 754.8 C351.4 755.9 352.3 756.8 352.5 757.2" stroke-width="1.2" fill="none" />
<path d="M352.5 757.2 L370.4 768.4 L373.7 767.5 L374 761.4" stroke-width="1.2" fill="none" />
<path d="M373.7 767.8 L420.3 740.3" stroke-width="1.2" fill="none" />
<path d="M355.3 744 L379.5 728.9" stroke-width="1.2" fill="none" />
<path d="M391.6 722.1 C392.1 721.9 393.8 721 394.9 720.9 C396 720.8 397.4 721.4 397.9 721.5" stroke-width="1.2" fill="none" />
<path d="M397.9 721.5 L414.3 731.2" stroke-width="1.2" fill="none" />
<path d="M414.3 731.2 C414.5 731.5 415.6 732.3 415.8 733 C416 733.7 415.5 735 415.5 735.4" stroke-width="1.2" fill="none" />
<path d="M415.5 735.4 L376.4 758.7" stroke-width="1.2" fill="none" />
<path d="M376.4 758.7 L374.9 761.4 L374.9 770.8" stroke-width="1.2" fill="none" />
<path d="M354.5 745.6 C354.9 745.3 355.9 744.1 357.1 744.2 C358.2 744.3 360.2 745.1 361.3 746 C362.4 746.9 362.9 748.5 363.6 749.6 C364.2 750.8 364.3 752 365.2 753 C366.2 753.9 367.8 755.2 369.2 755.4 C370.6 755.6 373 754.4 373.7 754.2" stroke-width="1.2" fill="none" />
<path d="M373.7 754.2 L375.5 756.6 L376.4 758.7" stroke-width="1.2" fill="none" />
<path d="M355.3 744 C355.1 744.3 354.8 744.6 354.5 745.6 C354.2 746.5 353.6 748.3 353.7 749.6 C353.9 751 355 753.2 355.3 753.9" stroke-width="1.2" fill="none" />
<path d="M365.5 751.1 L384.3 739.7" stroke-width="1.2" fill="none" />
<path d="M369.8 755.4 L388.5 743.6" stroke-width="1.2" fill="none" />
<path d="M370.4 749.6 L379.5 744" stroke-width="1.2" fill="none" />
<path d="M386.3 735.7 L396.1 741 L403.7 739.7" stroke-width="1.2" fill="none" />
<path d="M383.7 734.5 L384.3 739.7" stroke-width="1.2" fill="none" />
<path d="M395.3 724.4 L395.3 732.7" stroke-width="1.2" fill="none" />
<path d="M409.7 735.4 L409.7 738.1" stroke-width="1.2" fill="none" />
<path d="M373.7 754.2 L378 751.8" stroke-width="1.2" fill="none" />
<ellipse cx="414.3" cy="733.6" rx="2.7" ry="1.7" transform="rotate(0 414.3 733.6)" stroke-width="1.2" fill="none"/>
<ellipse cx="398.1" cy="739.7" rx="1.8" ry="1.2" transform="rotate(0 398.1 739.7)" stroke-width="1.2" fill="none"/>
<path d="M353 742.5 C352.1 742.1 350.3 740.8 347.7 740.3 C345.1 739.8 339.9 739.4 337.4 739.5 C334.9 739.6 333.9 740.2 332.9 741 C331.8 741.8 331.1 743 331.1 744.2 C331 745.4 331.5 747.3 332.6 748.4 C333.6 749.5 335.1 750.4 337.4 750.8 C339.7 751.3 344.2 751.2 346.2 750.8 C348.1 750.5 348.7 749 349.2 748.6" stroke-width="1.6" fill="none" />
<path d="M349.2 748.6 L353.7 745.1" stroke-width="1.2" fill="none" />
<ellipse cx="337.1" cy="743.4" rx="2.3" ry="1.4" transform="rotate(0 337.1 743.4)" stroke-width="1.2" fill="none"/>
<path d="M337.8 751.6 L337.8 763.7" stroke-width="1.2" fill="none" />
<path d="M414.1 752.4 L414.1 768.1" stroke-width="1.2" fill="none" />
<ellipse cx="337.4" cy="767.6" rx="5.8" ry="3.1" transform="rotate(0 337.4 767.6)" stroke-width="2.1" fill="none"/>
<ellipse cx="337.4" cy="767.1" rx="2.4" ry="1.2" transform="rotate(0 337.4 767.1)" stroke-width="1.2" fill="none"/>
<ellipse cx="414.6" cy="772.5" rx="5.8" ry="2.9" transform="rotate(0 414.6 772.5)" stroke-width="2.1" fill="none"/>
<ellipse cx="414.6" cy="772" rx="2.4" ry="1.2" transform="rotate(0 414.6 772)" stroke-width="1.2" fill="none"/>
<path d="M334.2 777.8 L334.2 793.5" stroke-width="1.2" fill="none" />
<path d="M341 777.8 L341 793.5" stroke-width="1.2" fill="none" />
<path d="M334.2 777.8 C334.8 777.5 336.5 775.8 337.6 775.8 C338.7 775.8 340.4 777.5 341 777.8" stroke-width="1.2" fill="none" />
<path d="M334.2 780.4 L341 779" stroke-width="1.6" fill="none" />
<path d="M334.2 782.6 L341 781.2" stroke-width="1.6" fill="none" />
<path d="M334.2 784.8 L341 783.3" stroke-width="1.6" fill="none" />
<path d="M334.2 787 L341 785.5" stroke-width="1.6" fill="none" />
<path d="M334.2 789.2 L341 787.7" stroke-width="1.6" fill="none" />
<path d="M334.2 791.3 L341 789.9" stroke-width="1.6" fill="none" />
<ellipse cx="337.4" cy="795.2" rx="6.5" ry="2.4" transform="rotate(0 337.4 795.2)" stroke-width="1.2" fill="#fff"/>
<path d="M330.8 795.2 L330.8 800 L334.2 803 L341 803 L343.9 800 L343.9 795.2" stroke-width="1.2" fill="none" />
<path d="M334.2 797.6 L334.2 803" stroke-width="1.2" fill="none" />
<path d="M341 797.6 L341 803" stroke-width="1.2" fill="none" />
<path d="M411.2 785.5 L411.2 795.9" stroke-width="1.2" fill="none" />
<path d="M417 785.5 L417 795.9" stroke-width="1.2" fill="none" />
<path d="M411.2 785.5 C411.7 785.2 413.1 783.8 414.1 783.8 C415.1 783.8 416.5 785.2 417 785.5" stroke-width="1.2" fill="none" />
<path d="M411.2 788.2 L417 786.7" stroke-width="1.6" fill="none" />
<path d="M411.2 790.4 L417 788.9" stroke-width="1.6" fill="none" />
<path d="M411.2 792.5 L417 791.1" stroke-width="1.6" fill="none" />
<path d="M411.2 794.7 L417 793.3" stroke-width="1.6" fill="none" />
<ellipse cx="414.1" cy="797.6" rx="6.1" ry="2.4" transform="rotate(0 414.1 797.6)" stroke-width="1.2" fill="#fff"/>
<path d="M408 797.6 L408 802" stroke-width="1.2" fill="none" />
<path d="M420.1 797.6 L420.1 802" stroke-width="1.2" fill="none" />
<path d="M408 802 C409 802.5 412.1 804.9 414.1 804.9 C416.1 804.9 419.1 802.5 420.1 802" stroke-width="1.2" fill="none" />
<path d="M287.8 743.8 L330 744.6" stroke-width="1.2" fill="none" />
<path d="M287.8 772.6 L331.2 768.8" stroke-width="1.2" fill="none" />
<path d="M287.8 800 L330 793" stroke-width="1.2" fill="none" />
<path d="M421.3 771.7 L446.8 769.3" stroke-width="1.2" fill="none" />
<path d="M421.3 799.6 L446.8 799.6" stroke-width="1.2" fill="none" />
<text x="276.8" y="748.4" font-size="12.8" text-anchor="middle" textLength="17.2" lengthAdjust="spacingAndGlyphs" >11</text>
<text x="276.8" y="777.2" font-size="12.8" text-anchor="middle" textLength="17.2" lengthAdjust="spacingAndGlyphs" >15</text>
<text x="276.8" y="804.7" font-size="12.8" text-anchor="middle" textLength="17.2" lengthAdjust="spacingAndGlyphs" >14</text>
<text x="455.2" y="773.4" font-size="12.8" text-anchor="middle" textLength="17.2" lengthAdjust="spacingAndGlyphs" >13</text>
<text x="455.2" y="803" font-size="12.8" text-anchor="middle" textLength="17.2" lengthAdjust="spacingAndGlyphs" >12</text>
<!-- fwd -->
<path d="M105.3 796.8 L118.9 775.6 L121.6 777.5 L122.7 780.2 L141.2 769.6 L145.4 770.7 L145.8 786.2 L122.7 799.8 L122.3 806.6Z" stroke-width="1.9" fill="none" />
<path d="M108.9 797.4 L120.6 778" stroke-width="1.5" fill="none" />
<path d="M122.5 782.3 L142.4 771.7 L144.1 772.4 L144.3 786.1" stroke-width="1.5" fill="none" />
<path d="M122.1 781.8 L121.9 799.8" stroke-width="1.8" fill="none" />
<path d="M142.4 771.7 L141.2 769.6" stroke-width="1.2" fill="none" />
<text transform="translate(122.3,799.2) skewY(-29) skewX(-9)" font-size="14.6" font-weight="bold" textLength="22" lengthAdjust="spacingAndGlyphs" style="stroke-width:0.3px">FWD</text>
<text x="84.3" y="824.6" font-size="11.9" text-anchor="start" textLength="90.5" lengthAdjust="spacingAndGlyphs" >69D1100-2110</text>
</svg>
</body></html>
